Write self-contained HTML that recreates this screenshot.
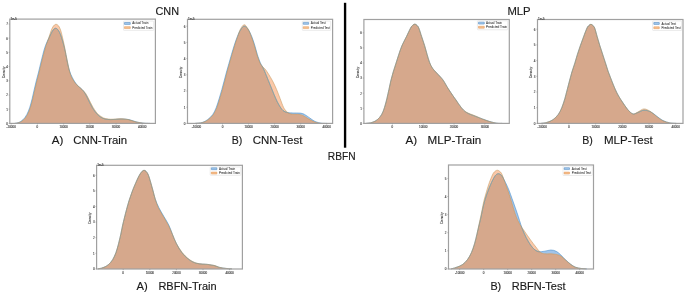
<!DOCTYPE html>
<html><head><meta charset="utf-8"><style>
html,body{margin:0;padding:0;background:#fff;}
body{width:685px;height:294px;overflow:hidden;}
svg{display:block;will-change:transform;}
.ax{fill:none;stroke:#a0a0a0;stroke-width:1.2;}
.tk{stroke:#8a8a8a;stroke-width:0.5;}
.tl{font-family:"Liberation Sans",sans-serif;font-size:3px;fill:#484848;stroke:#484848;stroke-width:0.12;}
.lt{font-family:"Liberation Sans",sans-serif;font-size:3.0px;fill:#404040;stroke:#404040;stroke-width:0.06;}
.lg{fill:#fff;fill-opacity:0.85;stroke:#d8d8d8;stroke-width:0.5;}
.bl{fill:none;stroke:#4c90cc;stroke-width:0.6;}
.ol{fill:none;stroke:#bf9558;stroke-width:0.65;stroke-opacity:0.8;}
.bm{fill:none;stroke:#93a68c;stroke-width:0.55;}
.cap{font-family:"Liberation Sans",sans-serif;fill:#1a1a1a;stroke:#1a1a1a;stroke-width:0.15;}
</style></head><body>
<svg width="685" height="294" viewBox="0 0 685 294">
<rect width="685" height="294" fill="#fff"/>
<g><clipPath id="c0"><path d="M15.00,123.40 C15.70,123.27 17.73,123.22 19.20,122.60 C20.67,121.98 22.40,121.07 23.80,119.70 C25.20,118.33 26.48,116.47 27.60,114.40 C28.72,112.33 29.62,109.95 30.50,107.30 C31.38,104.65 32.17,101.43 32.90,98.50 C33.63,95.57 34.22,92.65 34.90,89.70 C35.58,86.75 36.27,83.75 37.00,80.80 C37.73,77.85 38.57,74.93 39.30,72.00 C40.03,69.07 40.68,66.13 41.40,63.20 C42.12,60.27 42.82,57.35 43.60,54.40 C44.38,51.45 45.20,48.40 46.10,45.50 C47.00,42.60 48.18,39.42 49.00,37.00 C49.82,34.58 50.37,32.67 51.00,31.00 C51.63,29.33 52.23,28.00 52.80,27.00 C53.37,26.00 53.87,25.45 54.40,25.00 C54.93,24.55 55.45,24.30 56.00,24.30 C56.55,24.30 57.15,24.55 57.70,25.00 C58.25,25.45 58.77,26.00 59.30,27.00 C59.83,28.00 60.38,29.33 60.90,31.00 C61.42,32.67 61.83,34.58 62.40,37.00 C62.97,39.42 63.70,42.60 64.30,45.50 C64.90,48.40 65.42,51.45 66.00,54.40 C66.58,57.35 67.25,60.52 67.80,63.20 C68.35,65.88 68.73,68.28 69.30,70.50 C69.87,72.72 70.28,74.50 71.20,76.50 C72.12,78.50 73.40,80.70 74.80,82.50 C76.20,84.30 78.30,86.05 79.60,87.30 C80.90,88.55 81.62,89.02 82.60,90.00 C83.58,90.98 84.60,91.95 85.50,93.20 C86.40,94.45 87.17,95.95 88.00,97.50 C88.83,99.05 89.65,100.85 90.50,102.50 C91.35,104.15 92.22,105.90 93.10,107.40 C93.98,108.90 94.92,110.33 95.80,111.50 C96.68,112.67 97.08,113.32 98.40,114.40 C99.72,115.48 101.65,117.20 103.70,118.00 C105.75,118.80 107.82,119.08 110.70,119.20 C113.58,119.32 118.05,118.63 121.00,118.70 C123.95,118.77 125.98,119.08 128.40,119.60 C130.82,120.12 132.85,121.18 135.50,121.80 C138.15,122.42 142.22,123.03 144.30,123.30 C146.38,123.57 147.38,123.38 148.00,123.40 L148.00,123.40 L15.00,123.40 Z"/></clipPath>
<path d="M14.50,123.40 C15.17,123.27 17.08,123.22 18.50,122.60 C19.92,121.98 21.60,121.07 23.00,119.70 C24.40,118.33 25.77,116.47 26.90,114.40 C28.03,112.33 28.92,109.95 29.80,107.30 C30.68,104.65 31.47,101.43 32.20,98.50 C32.93,95.57 33.52,92.65 34.20,89.70 C34.88,86.75 35.57,83.75 36.30,80.80 C37.03,77.85 37.87,74.93 38.60,72.00 C39.33,69.07 39.98,66.13 40.70,63.20 C41.42,60.27 42.10,57.35 42.90,54.40 C43.70,51.45 44.45,48.32 45.50,45.50 C46.55,42.68 48.18,39.67 49.20,37.50 C50.22,35.33 50.87,33.85 51.60,32.50 C52.33,31.15 52.93,30.10 53.60,29.40 C54.27,28.70 54.93,28.30 55.60,28.30 C56.27,28.30 56.93,28.70 57.60,29.40 C58.27,30.10 58.95,31.15 59.60,32.50 C60.25,33.85 60.78,35.33 61.50,37.50 C62.22,39.67 63.17,42.68 63.90,45.50 C64.63,48.32 65.28,51.45 65.90,54.40 C66.52,57.35 66.98,60.43 67.60,63.20 C68.22,65.97 68.80,68.58 69.60,71.00 C70.40,73.42 71.20,75.42 72.40,77.70 C73.60,79.98 75.45,82.98 76.80,84.70 C78.15,86.42 79.47,87.03 80.50,88.00 C81.53,88.97 82.22,89.57 83.00,90.50 C83.78,91.43 84.48,92.43 85.20,93.60 C85.92,94.77 86.55,96.02 87.30,97.50 C88.05,98.98 88.87,100.85 89.70,102.50 C90.53,104.15 91.42,105.90 92.30,107.40 C93.18,108.90 94.12,110.30 95.00,111.50 C95.88,112.70 96.35,113.48 97.60,114.60 C98.85,115.72 100.77,117.40 102.50,118.20 C104.23,119.00 106.25,119.18 108.00,119.40 C109.75,119.62 110.77,119.58 113.00,119.50 C115.23,119.42 118.73,118.88 121.40,118.90 C124.07,118.92 126.57,119.12 129.00,119.60 C131.43,120.08 133.67,121.22 136.00,121.80 C138.33,122.38 140.67,122.83 143.00,123.10 C145.33,123.37 148.83,123.35 150.00,123.40 L150.00,123.40 L14.50,123.40 Z" fill="rgb(160,196,234)"/>
<path d="M15.00,123.40 C15.70,123.27 17.73,123.22 19.20,122.60 C20.67,121.98 22.40,121.07 23.80,119.70 C25.20,118.33 26.48,116.47 27.60,114.40 C28.72,112.33 29.62,109.95 30.50,107.30 C31.38,104.65 32.17,101.43 32.90,98.50 C33.63,95.57 34.22,92.65 34.90,89.70 C35.58,86.75 36.27,83.75 37.00,80.80 C37.73,77.85 38.57,74.93 39.30,72.00 C40.03,69.07 40.68,66.13 41.40,63.20 C42.12,60.27 42.82,57.35 43.60,54.40 C44.38,51.45 45.20,48.40 46.10,45.50 C47.00,42.60 48.18,39.42 49.00,37.00 C49.82,34.58 50.37,32.67 51.00,31.00 C51.63,29.33 52.23,28.00 52.80,27.00 C53.37,26.00 53.87,25.45 54.40,25.00 C54.93,24.55 55.45,24.30 56.00,24.30 C56.55,24.30 57.15,24.55 57.70,25.00 C58.25,25.45 58.77,26.00 59.30,27.00 C59.83,28.00 60.38,29.33 60.90,31.00 C61.42,32.67 61.83,34.58 62.40,37.00 C62.97,39.42 63.70,42.60 64.30,45.50 C64.90,48.40 65.42,51.45 66.00,54.40 C66.58,57.35 67.25,60.52 67.80,63.20 C68.35,65.88 68.73,68.28 69.30,70.50 C69.87,72.72 70.28,74.50 71.20,76.50 C72.12,78.50 73.40,80.70 74.80,82.50 C76.20,84.30 78.30,86.05 79.60,87.30 C80.90,88.55 81.62,89.02 82.60,90.00 C83.58,90.98 84.60,91.95 85.50,93.20 C86.40,94.45 87.17,95.95 88.00,97.50 C88.83,99.05 89.65,100.85 90.50,102.50 C91.35,104.15 92.22,105.90 93.10,107.40 C93.98,108.90 94.92,110.33 95.80,111.50 C96.68,112.67 97.08,113.32 98.40,114.40 C99.72,115.48 101.65,117.20 103.70,118.00 C105.75,118.80 107.82,119.08 110.70,119.20 C113.58,119.32 118.05,118.63 121.00,118.70 C123.95,118.77 125.98,119.08 128.40,119.60 C130.82,120.12 132.85,121.18 135.50,121.80 C138.15,122.42 142.22,123.03 144.30,123.30 C146.38,123.57 147.38,123.38 148.00,123.40 L148.00,123.40 L15.00,123.40 Z" fill="rgb(251,200,168)"/>
<path d="M14.50,123.40 C15.17,123.27 17.08,123.22 18.50,122.60 C19.92,121.98 21.60,121.07 23.00,119.70 C24.40,118.33 25.77,116.47 26.90,114.40 C28.03,112.33 28.92,109.95 29.80,107.30 C30.68,104.65 31.47,101.43 32.20,98.50 C32.93,95.57 33.52,92.65 34.20,89.70 C34.88,86.75 35.57,83.75 36.30,80.80 C37.03,77.85 37.87,74.93 38.60,72.00 C39.33,69.07 39.98,66.13 40.70,63.20 C41.42,60.27 42.10,57.35 42.90,54.40 C43.70,51.45 44.45,48.32 45.50,45.50 C46.55,42.68 48.18,39.67 49.20,37.50 C50.22,35.33 50.87,33.85 51.60,32.50 C52.33,31.15 52.93,30.10 53.60,29.40 C54.27,28.70 54.93,28.30 55.60,28.30 C56.27,28.30 56.93,28.70 57.60,29.40 C58.27,30.10 58.95,31.15 59.60,32.50 C60.25,33.85 60.78,35.33 61.50,37.50 C62.22,39.67 63.17,42.68 63.90,45.50 C64.63,48.32 65.28,51.45 65.90,54.40 C66.52,57.35 66.98,60.43 67.60,63.20 C68.22,65.97 68.80,68.58 69.60,71.00 C70.40,73.42 71.20,75.42 72.40,77.70 C73.60,79.98 75.45,82.98 76.80,84.70 C78.15,86.42 79.47,87.03 80.50,88.00 C81.53,88.97 82.22,89.57 83.00,90.50 C83.78,91.43 84.48,92.43 85.20,93.60 C85.92,94.77 86.55,96.02 87.30,97.50 C88.05,98.98 88.87,100.85 89.70,102.50 C90.53,104.15 91.42,105.90 92.30,107.40 C93.18,108.90 94.12,110.30 95.00,111.50 C95.88,112.70 96.35,113.48 97.60,114.60 C98.85,115.72 100.77,117.40 102.50,118.20 C104.23,119.00 106.25,119.18 108.00,119.40 C109.75,119.62 110.77,119.58 113.00,119.50 C115.23,119.42 118.73,118.88 121.40,118.90 C124.07,118.92 126.57,119.12 129.00,119.60 C131.43,120.08 133.67,121.22 136.00,121.80 C138.33,122.38 140.67,122.83 143.00,123.10 C145.33,123.37 148.83,123.35 150.00,123.40 L150.00,123.40 L14.50,123.40 Z" fill="rgb(214,168,140)" clip-path="url(#c0)"/>
<path d="M14.50,123.40 C15.17,123.27 17.08,123.22 18.50,122.60 C19.92,121.98 21.60,121.07 23.00,119.70 C24.40,118.33 25.77,116.47 26.90,114.40 C28.03,112.33 28.92,109.95 29.80,107.30 C30.68,104.65 31.47,101.43 32.20,98.50 C32.93,95.57 33.52,92.65 34.20,89.70 C34.88,86.75 35.57,83.75 36.30,80.80 C37.03,77.85 37.87,74.93 38.60,72.00 C39.33,69.07 39.98,66.13 40.70,63.20 C41.42,60.27 42.10,57.35 42.90,54.40 C43.70,51.45 44.45,48.32 45.50,45.50 C46.55,42.68 48.18,39.67 49.20,37.50 C50.22,35.33 50.87,33.85 51.60,32.50 C52.33,31.15 52.93,30.10 53.60,29.40 C54.27,28.70 54.93,28.30 55.60,28.30 C56.27,28.30 56.93,28.70 57.60,29.40 C58.27,30.10 58.95,31.15 59.60,32.50 C60.25,33.85 60.78,35.33 61.50,37.50 C62.22,39.67 63.17,42.68 63.90,45.50 C64.63,48.32 65.28,51.45 65.90,54.40 C66.52,57.35 66.98,60.43 67.60,63.20 C68.22,65.97 68.80,68.58 69.60,71.00 C70.40,73.42 71.20,75.42 72.40,77.70 C73.60,79.98 75.45,82.98 76.80,84.70 C78.15,86.42 79.47,87.03 80.50,88.00 C81.53,88.97 82.22,89.57 83.00,90.50 C83.78,91.43 84.48,92.43 85.20,93.60 C85.92,94.77 86.55,96.02 87.30,97.50 C88.05,98.98 88.87,100.85 89.70,102.50 C90.53,104.15 91.42,105.90 92.30,107.40 C93.18,108.90 94.12,110.30 95.00,111.50 C95.88,112.70 96.35,113.48 97.60,114.60 C98.85,115.72 100.77,117.40 102.50,118.20 C104.23,119.00 106.25,119.18 108.00,119.40 C109.75,119.62 110.77,119.58 113.00,119.50 C115.23,119.42 118.73,118.88 121.40,118.90 C124.07,118.92 126.57,119.12 129.00,119.60 C131.43,120.08 133.67,121.22 136.00,121.80 C138.33,122.38 140.67,122.83 143.00,123.10 C145.33,123.37 148.83,123.35 150.00,123.40" class="bl"/>
<path d="M14.50,123.40 C15.17,123.27 17.08,123.22 18.50,122.60 C19.92,121.98 21.60,121.07 23.00,119.70 C24.40,118.33 25.77,116.47 26.90,114.40 C28.03,112.33 28.92,109.95 29.80,107.30 C30.68,104.65 31.47,101.43 32.20,98.50 C32.93,95.57 33.52,92.65 34.20,89.70 C34.88,86.75 35.57,83.75 36.30,80.80 C37.03,77.85 37.87,74.93 38.60,72.00 C39.33,69.07 39.98,66.13 40.70,63.20 C41.42,60.27 42.10,57.35 42.90,54.40 C43.70,51.45 44.45,48.32 45.50,45.50 C46.55,42.68 48.18,39.67 49.20,37.50 C50.22,35.33 50.87,33.85 51.60,32.50 C52.33,31.15 52.93,30.10 53.60,29.40 C54.27,28.70 54.93,28.30 55.60,28.30 C56.27,28.30 56.93,28.70 57.60,29.40 C58.27,30.10 58.95,31.15 59.60,32.50 C60.25,33.85 60.78,35.33 61.50,37.50 C62.22,39.67 63.17,42.68 63.90,45.50 C64.63,48.32 65.28,51.45 65.90,54.40 C66.52,57.35 66.98,60.43 67.60,63.20 C68.22,65.97 68.80,68.58 69.60,71.00 C70.40,73.42 71.20,75.42 72.40,77.70 C73.60,79.98 75.45,82.98 76.80,84.70 C78.15,86.42 79.47,87.03 80.50,88.00 C81.53,88.97 82.22,89.57 83.00,90.50 C83.78,91.43 84.48,92.43 85.20,93.60 C85.92,94.77 86.55,96.02 87.30,97.50 C88.05,98.98 88.87,100.85 89.70,102.50 C90.53,104.15 91.42,105.90 92.30,107.40 C93.18,108.90 94.12,110.30 95.00,111.50 C95.88,112.70 96.35,113.48 97.60,114.60 C98.85,115.72 100.77,117.40 102.50,118.20 C104.23,119.00 106.25,119.18 108.00,119.40 C109.75,119.62 110.77,119.58 113.00,119.50 C115.23,119.42 118.73,118.88 121.40,118.90 C124.07,118.92 126.57,119.12 129.00,119.60 C131.43,120.08 133.67,121.22 136.00,121.80 C138.33,122.38 140.67,122.83 143.00,123.10 C145.33,123.37 148.83,123.35 150.00,123.40" class="bm" clip-path="url(#c0)"/>
<path d="M15.00,123.40 C15.70,123.27 17.73,123.22 19.20,122.60 C20.67,121.98 22.40,121.07 23.80,119.70 C25.20,118.33 26.48,116.47 27.60,114.40 C28.72,112.33 29.62,109.95 30.50,107.30 C31.38,104.65 32.17,101.43 32.90,98.50 C33.63,95.57 34.22,92.65 34.90,89.70 C35.58,86.75 36.27,83.75 37.00,80.80 C37.73,77.85 38.57,74.93 39.30,72.00 C40.03,69.07 40.68,66.13 41.40,63.20 C42.12,60.27 42.82,57.35 43.60,54.40 C44.38,51.45 45.20,48.40 46.10,45.50 C47.00,42.60 48.18,39.42 49.00,37.00 C49.82,34.58 50.37,32.67 51.00,31.00 C51.63,29.33 52.23,28.00 52.80,27.00 C53.37,26.00 53.87,25.45 54.40,25.00 C54.93,24.55 55.45,24.30 56.00,24.30 C56.55,24.30 57.15,24.55 57.70,25.00 C58.25,25.45 58.77,26.00 59.30,27.00 C59.83,28.00 60.38,29.33 60.90,31.00 C61.42,32.67 61.83,34.58 62.40,37.00 C62.97,39.42 63.70,42.60 64.30,45.50 C64.90,48.40 65.42,51.45 66.00,54.40 C66.58,57.35 67.25,60.52 67.80,63.20 C68.35,65.88 68.73,68.28 69.30,70.50 C69.87,72.72 70.28,74.50 71.20,76.50 C72.12,78.50 73.40,80.70 74.80,82.50 C76.20,84.30 78.30,86.05 79.60,87.30 C80.90,88.55 81.62,89.02 82.60,90.00 C83.58,90.98 84.60,91.95 85.50,93.20 C86.40,94.45 87.17,95.95 88.00,97.50 C88.83,99.05 89.65,100.85 90.50,102.50 C91.35,104.15 92.22,105.90 93.10,107.40 C93.98,108.90 94.92,110.33 95.80,111.50 C96.68,112.67 97.08,113.32 98.40,114.40 C99.72,115.48 101.65,117.20 103.70,118.00 C105.75,118.80 107.82,119.08 110.70,119.20 C113.58,119.32 118.05,118.63 121.00,118.70 C123.95,118.77 125.98,119.08 128.40,119.60 C130.82,120.12 132.85,121.18 135.50,121.80 C138.15,122.42 142.22,123.03 144.30,123.30 C146.38,123.57 147.38,123.38 148.00,123.40" class="ol"/>
<rect x="9.80" y="19.10" width="145.60" height="104.30" class="ax"/>
<line x1="8.60" y1="123.40" x2="9.80" y2="123.40" class="tk"/>
<text x="7.80" y="124.70" class="tl" text-anchor="end">0</text>
<line x1="8.60" y1="109.20" x2="9.80" y2="109.20" class="tk"/>
<text x="7.80" y="110.50" class="tl" text-anchor="end">1</text>
<line x1="8.60" y1="95.00" x2="9.80" y2="95.00" class="tk"/>
<text x="7.80" y="96.30" class="tl" text-anchor="end">2</text>
<line x1="8.60" y1="80.80" x2="9.80" y2="80.80" class="tk"/>
<text x="7.80" y="82.10" class="tl" text-anchor="end">3</text>
<line x1="8.60" y1="66.60" x2="9.80" y2="66.60" class="tk"/>
<text x="7.80" y="67.90" class="tl" text-anchor="end">4</text>
<line x1="8.60" y1="52.40" x2="9.80" y2="52.40" class="tk"/>
<text x="7.80" y="53.70" class="tl" text-anchor="end">5</text>
<line x1="8.60" y1="38.20" x2="9.80" y2="38.20" class="tk"/>
<text x="7.80" y="39.50" class="tl" text-anchor="end">6</text>
<line x1="8.60" y1="24.00" x2="9.80" y2="24.00" class="tk"/>
<text x="7.80" y="25.30" class="tl" text-anchor="end">7</text>
<line x1="11.20" y1="123.40" x2="11.20" y2="124.60" class="tk"/>
<text x="11.20" y="128.10" class="tl" text-anchor="middle">-10000</text>
<line x1="37.40" y1="123.40" x2="37.40" y2="124.60" class="tk"/>
<text x="37.40" y="128.10" class="tl" text-anchor="middle">0</text>
<line x1="63.60" y1="123.40" x2="63.60" y2="124.60" class="tk"/>
<text x="63.60" y="128.10" class="tl" text-anchor="middle">10000</text>
<line x1="89.80" y1="123.40" x2="89.80" y2="124.60" class="tk"/>
<text x="89.80" y="128.10" class="tl" text-anchor="middle">20000</text>
<line x1="116.00" y1="123.40" x2="116.00" y2="124.60" class="tk"/>
<text x="116.00" y="128.10" class="tl" text-anchor="middle">30000</text>
<line x1="142.20" y1="123.40" x2="142.20" y2="124.60" class="tk"/>
<text x="142.20" y="128.10" class="tl" text-anchor="middle">40000</text>
<text x="10.40" y="19.60" class="tl" style="font-size:2.7px" textLength="6.5" lengthAdjust="spacingAndGlyphs">1e-5</text>
<text transform="translate(4.60,72.25) rotate(-90)" class="tl" text-anchor="middle" style="font-size:3.4px">Density</text>
<rect x="123.50" y="21.10" width="30.20" height="9.30" rx="0.6" class="lg"/>
<rect x="124.40" y="22.50" width="5.90" height="1.9" rx="0.15" fill="#a3c8ec" stroke="#4f88c0" stroke-width="0.55"/>
<rect x="124.40" y="26.65" width="5.90" height="1.9" rx="0.15" fill="#f7c090" stroke="#e39c5e" stroke-width="0.55"/>
<text x="132.30" y="24.45" class="lt" textLength="16.10" lengthAdjust="spacingAndGlyphs">Actual Train</text>
<text x="132.30" y="28.75" class="lt" textLength="20.20" lengthAdjust="spacingAndGlyphs">Predicted Train</text></g>
<g><clipPath id="c1"><path d="M195.50,123.40 C196.68,123.25 200.50,123.12 202.60,122.50 C204.70,121.88 206.28,121.05 208.10,119.70 C209.92,118.35 212.02,116.45 213.50,114.40 C214.98,112.35 215.93,110.05 217.00,107.40 C218.07,104.75 218.98,101.45 219.90,98.50 C220.82,95.55 221.67,92.65 222.50,89.70 C223.33,86.75 224.13,83.75 224.90,80.80 C225.67,77.85 226.32,74.93 227.10,72.00 C227.88,69.07 228.77,66.13 229.60,63.20 C230.43,60.27 231.25,57.35 232.10,54.40 C232.95,51.45 233.78,48.45 234.70,45.50 C235.62,42.55 236.65,39.42 237.60,36.70 C238.55,33.98 239.30,31.20 240.40,29.20 C241.50,27.20 242.93,24.77 244.20,24.70 C245.47,24.63 246.80,26.80 248.00,28.80 C249.20,30.80 250.35,33.92 251.40,36.70 C252.45,39.48 253.38,42.55 254.30,45.50 C255.22,48.45 255.97,51.53 256.90,54.40 C257.83,57.27 258.97,60.68 259.90,62.70 C260.83,64.72 261.57,65.37 262.50,66.50 C263.43,67.63 264.45,68.17 265.50,69.50 C266.55,70.83 267.63,72.62 268.80,74.50 C269.97,76.38 271.18,78.27 272.50,80.80 C273.82,83.33 275.43,86.75 276.70,89.70 C277.97,92.65 278.95,95.55 280.10,98.50 C281.25,101.45 282.47,105.18 283.60,107.40 C284.73,109.62 285.67,110.70 286.90,111.80 C288.13,112.90 288.98,113.57 291.00,114.00 C293.02,114.43 297.00,114.15 299.00,114.40 C301.00,114.65 301.50,114.80 303.00,115.50 C304.50,116.20 306.17,117.55 308.00,118.60 C309.83,119.65 312.00,121.02 314.00,121.80 C316.00,122.58 318.17,123.03 320.00,123.30 C321.83,123.57 324.17,123.38 325.00,123.40 L325.00,123.40 L195.50,123.40 Z"/></clipPath>
<path d="M195.00,123.40 C196.18,123.25 200.02,123.12 202.10,122.50 C204.18,121.88 205.72,121.05 207.50,119.70 C209.28,118.35 211.33,116.45 212.80,114.40 C214.27,112.35 215.23,110.05 216.30,107.40 C217.37,104.75 218.28,101.45 219.20,98.50 C220.12,95.55 220.97,92.65 221.80,89.70 C222.63,86.75 223.42,83.75 224.20,80.80 C224.98,77.85 225.70,74.93 226.50,72.00 C227.30,69.07 228.17,66.13 229.00,63.20 C229.83,60.27 230.63,57.35 231.50,54.40 C232.37,51.45 233.23,48.45 234.20,45.50 C235.17,42.55 236.23,39.32 237.30,36.70 C238.37,34.08 239.45,31.55 240.60,29.80 C241.75,28.05 242.93,26.27 244.20,26.20 C245.47,26.13 246.93,27.65 248.20,29.40 C249.47,31.15 250.70,34.02 251.80,36.70 C252.90,39.38 253.88,42.55 254.80,45.50 C255.72,48.45 256.38,51.53 257.30,54.40 C258.22,57.27 259.42,60.60 260.30,62.70 C261.18,64.80 261.87,65.53 262.60,67.00 C263.33,68.47 263.75,69.27 264.70,71.50 C265.65,73.73 267.08,77.40 268.30,80.40 C269.52,83.40 270.80,86.57 272.00,89.50 C273.20,92.43 274.33,95.42 275.50,98.00 C276.67,100.58 277.75,102.92 279.00,105.00 C280.25,107.08 281.55,109.23 283.00,110.50 C284.45,111.77 286.03,112.18 287.70,112.60 C289.37,113.02 290.93,112.92 293.00,113.00 C295.07,113.08 298.18,112.87 300.10,113.10 C302.02,113.33 302.88,113.58 304.50,114.40 C306.12,115.22 308.03,116.82 309.80,118.00 C311.57,119.18 313.18,120.63 315.10,121.50 C317.02,122.37 319.32,122.88 321.30,123.20 C323.28,123.52 326.05,123.37 327.00,123.40 L327.00,123.40 L195.00,123.40 Z" fill="rgb(160,196,234)"/>
<path d="M195.50,123.40 C196.68,123.25 200.50,123.12 202.60,122.50 C204.70,121.88 206.28,121.05 208.10,119.70 C209.92,118.35 212.02,116.45 213.50,114.40 C214.98,112.35 215.93,110.05 217.00,107.40 C218.07,104.75 218.98,101.45 219.90,98.50 C220.82,95.55 221.67,92.65 222.50,89.70 C223.33,86.75 224.13,83.75 224.90,80.80 C225.67,77.85 226.32,74.93 227.10,72.00 C227.88,69.07 228.77,66.13 229.60,63.20 C230.43,60.27 231.25,57.35 232.10,54.40 C232.95,51.45 233.78,48.45 234.70,45.50 C235.62,42.55 236.65,39.42 237.60,36.70 C238.55,33.98 239.30,31.20 240.40,29.20 C241.50,27.20 242.93,24.77 244.20,24.70 C245.47,24.63 246.80,26.80 248.00,28.80 C249.20,30.80 250.35,33.92 251.40,36.70 C252.45,39.48 253.38,42.55 254.30,45.50 C255.22,48.45 255.97,51.53 256.90,54.40 C257.83,57.27 258.97,60.68 259.90,62.70 C260.83,64.72 261.57,65.37 262.50,66.50 C263.43,67.63 264.45,68.17 265.50,69.50 C266.55,70.83 267.63,72.62 268.80,74.50 C269.97,76.38 271.18,78.27 272.50,80.80 C273.82,83.33 275.43,86.75 276.70,89.70 C277.97,92.65 278.95,95.55 280.10,98.50 C281.25,101.45 282.47,105.18 283.60,107.40 C284.73,109.62 285.67,110.70 286.90,111.80 C288.13,112.90 288.98,113.57 291.00,114.00 C293.02,114.43 297.00,114.15 299.00,114.40 C301.00,114.65 301.50,114.80 303.00,115.50 C304.50,116.20 306.17,117.55 308.00,118.60 C309.83,119.65 312.00,121.02 314.00,121.80 C316.00,122.58 318.17,123.03 320.00,123.30 C321.83,123.57 324.17,123.38 325.00,123.40 L325.00,123.40 L195.50,123.40 Z" fill="rgb(251,200,168)"/>
<path d="M195.00,123.40 C196.18,123.25 200.02,123.12 202.10,122.50 C204.18,121.88 205.72,121.05 207.50,119.70 C209.28,118.35 211.33,116.45 212.80,114.40 C214.27,112.35 215.23,110.05 216.30,107.40 C217.37,104.75 218.28,101.45 219.20,98.50 C220.12,95.55 220.97,92.65 221.80,89.70 C222.63,86.75 223.42,83.75 224.20,80.80 C224.98,77.85 225.70,74.93 226.50,72.00 C227.30,69.07 228.17,66.13 229.00,63.20 C229.83,60.27 230.63,57.35 231.50,54.40 C232.37,51.45 233.23,48.45 234.20,45.50 C235.17,42.55 236.23,39.32 237.30,36.70 C238.37,34.08 239.45,31.55 240.60,29.80 C241.75,28.05 242.93,26.27 244.20,26.20 C245.47,26.13 246.93,27.65 248.20,29.40 C249.47,31.15 250.70,34.02 251.80,36.70 C252.90,39.38 253.88,42.55 254.80,45.50 C255.72,48.45 256.38,51.53 257.30,54.40 C258.22,57.27 259.42,60.60 260.30,62.70 C261.18,64.80 261.87,65.53 262.60,67.00 C263.33,68.47 263.75,69.27 264.70,71.50 C265.65,73.73 267.08,77.40 268.30,80.40 C269.52,83.40 270.80,86.57 272.00,89.50 C273.20,92.43 274.33,95.42 275.50,98.00 C276.67,100.58 277.75,102.92 279.00,105.00 C280.25,107.08 281.55,109.23 283.00,110.50 C284.45,111.77 286.03,112.18 287.70,112.60 C289.37,113.02 290.93,112.92 293.00,113.00 C295.07,113.08 298.18,112.87 300.10,113.10 C302.02,113.33 302.88,113.58 304.50,114.40 C306.12,115.22 308.03,116.82 309.80,118.00 C311.57,119.18 313.18,120.63 315.10,121.50 C317.02,122.37 319.32,122.88 321.30,123.20 C323.28,123.52 326.05,123.37 327.00,123.40 L327.00,123.40 L195.00,123.40 Z" fill="rgb(214,168,140)" clip-path="url(#c1)"/>
<path d="M195.00,123.40 C196.18,123.25 200.02,123.12 202.10,122.50 C204.18,121.88 205.72,121.05 207.50,119.70 C209.28,118.35 211.33,116.45 212.80,114.40 C214.27,112.35 215.23,110.05 216.30,107.40 C217.37,104.75 218.28,101.45 219.20,98.50 C220.12,95.55 220.97,92.65 221.80,89.70 C222.63,86.75 223.42,83.75 224.20,80.80 C224.98,77.85 225.70,74.93 226.50,72.00 C227.30,69.07 228.17,66.13 229.00,63.20 C229.83,60.27 230.63,57.35 231.50,54.40 C232.37,51.45 233.23,48.45 234.20,45.50 C235.17,42.55 236.23,39.32 237.30,36.70 C238.37,34.08 239.45,31.55 240.60,29.80 C241.75,28.05 242.93,26.27 244.20,26.20 C245.47,26.13 246.93,27.65 248.20,29.40 C249.47,31.15 250.70,34.02 251.80,36.70 C252.90,39.38 253.88,42.55 254.80,45.50 C255.72,48.45 256.38,51.53 257.30,54.40 C258.22,57.27 259.42,60.60 260.30,62.70 C261.18,64.80 261.87,65.53 262.60,67.00 C263.33,68.47 263.75,69.27 264.70,71.50 C265.65,73.73 267.08,77.40 268.30,80.40 C269.52,83.40 270.80,86.57 272.00,89.50 C273.20,92.43 274.33,95.42 275.50,98.00 C276.67,100.58 277.75,102.92 279.00,105.00 C280.25,107.08 281.55,109.23 283.00,110.50 C284.45,111.77 286.03,112.18 287.70,112.60 C289.37,113.02 290.93,112.92 293.00,113.00 C295.07,113.08 298.18,112.87 300.10,113.10 C302.02,113.33 302.88,113.58 304.50,114.40 C306.12,115.22 308.03,116.82 309.80,118.00 C311.57,119.18 313.18,120.63 315.10,121.50 C317.02,122.37 319.32,122.88 321.30,123.20 C323.28,123.52 326.05,123.37 327.00,123.40" class="bl"/>
<path d="M195.00,123.40 C196.18,123.25 200.02,123.12 202.10,122.50 C204.18,121.88 205.72,121.05 207.50,119.70 C209.28,118.35 211.33,116.45 212.80,114.40 C214.27,112.35 215.23,110.05 216.30,107.40 C217.37,104.75 218.28,101.45 219.20,98.50 C220.12,95.55 220.97,92.65 221.80,89.70 C222.63,86.75 223.42,83.75 224.20,80.80 C224.98,77.85 225.70,74.93 226.50,72.00 C227.30,69.07 228.17,66.13 229.00,63.20 C229.83,60.27 230.63,57.35 231.50,54.40 C232.37,51.45 233.23,48.45 234.20,45.50 C235.17,42.55 236.23,39.32 237.30,36.70 C238.37,34.08 239.45,31.55 240.60,29.80 C241.75,28.05 242.93,26.27 244.20,26.20 C245.47,26.13 246.93,27.65 248.20,29.40 C249.47,31.15 250.70,34.02 251.80,36.70 C252.90,39.38 253.88,42.55 254.80,45.50 C255.72,48.45 256.38,51.53 257.30,54.40 C258.22,57.27 259.42,60.60 260.30,62.70 C261.18,64.80 261.87,65.53 262.60,67.00 C263.33,68.47 263.75,69.27 264.70,71.50 C265.65,73.73 267.08,77.40 268.30,80.40 C269.52,83.40 270.80,86.57 272.00,89.50 C273.20,92.43 274.33,95.42 275.50,98.00 C276.67,100.58 277.75,102.92 279.00,105.00 C280.25,107.08 281.55,109.23 283.00,110.50 C284.45,111.77 286.03,112.18 287.70,112.60 C289.37,113.02 290.93,112.92 293.00,113.00 C295.07,113.08 298.18,112.87 300.10,113.10 C302.02,113.33 302.88,113.58 304.50,114.40 C306.12,115.22 308.03,116.82 309.80,118.00 C311.57,119.18 313.18,120.63 315.10,121.50 C317.02,122.37 319.32,122.88 321.30,123.20 C323.28,123.52 326.05,123.37 327.00,123.40" class="bm" clip-path="url(#c1)"/>
<path d="M195.50,123.40 C196.68,123.25 200.50,123.12 202.60,122.50 C204.70,121.88 206.28,121.05 208.10,119.70 C209.92,118.35 212.02,116.45 213.50,114.40 C214.98,112.35 215.93,110.05 217.00,107.40 C218.07,104.75 218.98,101.45 219.90,98.50 C220.82,95.55 221.67,92.65 222.50,89.70 C223.33,86.75 224.13,83.75 224.90,80.80 C225.67,77.85 226.32,74.93 227.10,72.00 C227.88,69.07 228.77,66.13 229.60,63.20 C230.43,60.27 231.25,57.35 232.10,54.40 C232.95,51.45 233.78,48.45 234.70,45.50 C235.62,42.55 236.65,39.42 237.60,36.70 C238.55,33.98 239.30,31.20 240.40,29.20 C241.50,27.20 242.93,24.77 244.20,24.70 C245.47,24.63 246.80,26.80 248.00,28.80 C249.20,30.80 250.35,33.92 251.40,36.70 C252.45,39.48 253.38,42.55 254.30,45.50 C255.22,48.45 255.97,51.53 256.90,54.40 C257.83,57.27 258.97,60.68 259.90,62.70 C260.83,64.72 261.57,65.37 262.50,66.50 C263.43,67.63 264.45,68.17 265.50,69.50 C266.55,70.83 267.63,72.62 268.80,74.50 C269.97,76.38 271.18,78.27 272.50,80.80 C273.82,83.33 275.43,86.75 276.70,89.70 C277.97,92.65 278.95,95.55 280.10,98.50 C281.25,101.45 282.47,105.18 283.60,107.40 C284.73,109.62 285.67,110.70 286.90,111.80 C288.13,112.90 288.98,113.57 291.00,114.00 C293.02,114.43 297.00,114.15 299.00,114.40 C301.00,114.65 301.50,114.80 303.00,115.50 C304.50,116.20 306.17,117.55 308.00,118.60 C309.83,119.65 312.00,121.02 314.00,121.80 C316.00,122.58 318.17,123.03 320.00,123.30 C321.83,123.57 324.17,123.38 325.00,123.40" class="ol"/>
<rect x="187.50" y="19.30" width="145.10" height="104.10" class="ax"/>
<line x1="186.30" y1="123.40" x2="187.50" y2="123.40" class="tk"/>
<text x="185.50" y="124.70" class="tl" text-anchor="end">0</text>
<line x1="186.30" y1="107.20" x2="187.50" y2="107.20" class="tk"/>
<text x="185.50" y="108.50" class="tl" text-anchor="end">1</text>
<line x1="186.30" y1="91.00" x2="187.50" y2="91.00" class="tk"/>
<text x="185.50" y="92.30" class="tl" text-anchor="end">2</text>
<line x1="186.30" y1="74.80" x2="187.50" y2="74.80" class="tk"/>
<text x="185.50" y="76.10" class="tl" text-anchor="end">3</text>
<line x1="186.30" y1="58.60" x2="187.50" y2="58.60" class="tk"/>
<text x="185.50" y="59.90" class="tl" text-anchor="end">4</text>
<line x1="186.30" y1="42.40" x2="187.50" y2="42.40" class="tk"/>
<text x="185.50" y="43.70" class="tl" text-anchor="end">5</text>
<line x1="186.30" y1="26.20" x2="187.50" y2="26.20" class="tk"/>
<text x="185.50" y="27.50" class="tl" text-anchor="end">6</text>
<line x1="196.45" y1="123.40" x2="196.45" y2="124.60" class="tk"/>
<text x="196.45" y="128.10" class="tl" text-anchor="middle">-10000</text>
<line x1="222.50" y1="123.40" x2="222.50" y2="124.60" class="tk"/>
<text x="222.50" y="128.10" class="tl" text-anchor="middle">0</text>
<line x1="248.55" y1="123.40" x2="248.55" y2="124.60" class="tk"/>
<text x="248.55" y="128.10" class="tl" text-anchor="middle">10000</text>
<line x1="274.60" y1="123.40" x2="274.60" y2="124.60" class="tk"/>
<text x="274.60" y="128.10" class="tl" text-anchor="middle">20000</text>
<line x1="300.65" y1="123.40" x2="300.65" y2="124.60" class="tk"/>
<text x="300.65" y="128.10" class="tl" text-anchor="middle">30000</text>
<line x1="326.70" y1="123.40" x2="326.70" y2="124.60" class="tk"/>
<text x="326.70" y="128.10" class="tl" text-anchor="middle">40000</text>
<text x="188.10" y="19.80" class="tl" style="font-size:2.7px" textLength="6.5" lengthAdjust="spacingAndGlyphs">1e-5</text>
<text transform="translate(182.30,72.35) rotate(-90)" class="tl" text-anchor="middle" style="font-size:3.4px">Density</text>
<rect x="302.30" y="21.10" width="28.40" height="9.30" rx="0.6" class="lg"/>
<rect x="303.20" y="22.40" width="5.50" height="1.9" rx="0.15" fill="#a3c8ec" stroke="#4f88c0" stroke-width="0.55"/>
<rect x="303.20" y="26.70" width="5.50" height="1.9" rx="0.15" fill="#f7c090" stroke="#e39c5e" stroke-width="0.55"/>
<text x="310.80" y="24.45" class="lt" textLength="14.90" lengthAdjust="spacingAndGlyphs">Actual Test</text>
<text x="310.80" y="28.75" class="lt" textLength="19.10" lengthAdjust="spacingAndGlyphs">Predicted Test</text></g>
<g><clipPath id="c2"><path d="M366.00,123.40 C367.00,123.23 370.12,123.02 372.00,122.40 C373.88,121.78 375.68,121.03 377.30,119.70 C378.92,118.37 380.50,116.45 381.70,114.40 C382.90,112.35 383.63,110.05 384.50,107.40 C385.37,104.75 386.17,101.45 386.90,98.50 C387.63,95.55 388.25,92.65 388.90,89.70 C389.55,86.75 390.08,83.75 390.80,80.80 C391.52,77.85 392.33,74.93 393.20,72.00 C394.07,69.07 395.07,66.13 396.00,63.20 C396.93,60.27 397.80,57.35 398.80,54.40 C399.80,51.45 400.73,48.45 402.00,45.50 C403.27,42.55 404.97,39.62 406.40,36.70 C407.83,33.78 409.55,29.90 410.60,28.00 C411.65,26.10 412.00,25.95 412.70,25.30 C413.40,24.65 414.10,24.10 414.80,24.10 C415.50,24.10 416.23,24.65 416.90,25.30 C417.57,25.95 418.00,26.10 418.80,28.00 C419.60,29.90 420.73,33.78 421.70,36.70 C422.67,39.62 423.70,42.55 424.60,45.50 C425.50,48.45 426.25,51.53 427.10,54.40 C427.95,57.27 428.80,60.40 429.70,62.70 C430.60,65.00 431.48,66.65 432.50,68.20 C433.52,69.75 434.47,70.53 435.80,72.00 C437.13,73.47 439.22,75.55 440.50,77.00 C441.78,78.45 442.22,78.77 443.50,80.70 C444.78,82.63 446.65,86.13 448.20,88.60 C449.75,91.07 451.50,93.60 452.80,95.50 C454.10,97.40 454.60,98.02 456.00,100.00 C457.40,101.98 459.45,105.37 461.20,107.40 C462.95,109.43 464.13,110.78 466.50,112.20 C468.87,113.62 472.75,114.77 475.40,115.90 C478.05,117.03 480.05,118.07 482.40,119.00 C484.75,119.93 487.13,120.80 489.50,121.50 C491.87,122.20 494.52,122.88 496.60,123.20 C498.68,123.52 501.10,123.37 502.00,123.40 L502.00,123.40 L366.00,123.40 Z"/></clipPath>
<path d="M366.00,123.40 C367.00,123.23 370.12,123.02 372.00,122.40 C373.88,121.78 375.68,121.03 377.30,119.70 C378.92,118.37 380.50,116.45 381.70,114.40 C382.90,112.35 383.63,110.05 384.50,107.40 C385.37,104.75 386.17,101.45 386.90,98.50 C387.63,95.55 388.25,92.65 388.90,89.70 C389.55,86.75 390.08,83.75 390.80,80.80 C391.52,77.85 392.33,74.93 393.20,72.00 C394.07,69.07 395.07,66.13 396.00,63.20 C396.93,60.27 397.80,57.35 398.80,54.40 C399.80,51.45 400.73,48.45 402.00,45.50 C403.27,42.55 404.97,39.62 406.40,36.70 C407.83,33.78 409.55,29.90 410.60,28.00 C411.65,26.10 412.00,25.95 412.70,25.30 C413.40,24.65 414.10,24.10 414.80,24.10 C415.50,24.10 416.23,24.65 416.90,25.30 C417.57,25.95 418.00,26.10 418.80,28.00 C419.60,29.90 420.73,33.78 421.70,36.70 C422.67,39.62 423.70,42.55 424.60,45.50 C425.50,48.45 426.25,51.53 427.10,54.40 C427.95,57.27 428.80,60.40 429.70,62.70 C430.60,65.00 431.48,66.65 432.50,68.20 C433.52,69.75 434.47,70.53 435.80,72.00 C437.13,73.47 439.22,75.55 440.50,77.00 C441.78,78.45 442.22,78.77 443.50,80.70 C444.78,82.63 446.65,86.13 448.20,88.60 C449.75,91.07 451.50,93.60 452.80,95.50 C454.10,97.40 454.60,98.02 456.00,100.00 C457.40,101.98 459.40,105.28 461.20,107.40 C463.00,109.52 464.38,111.20 466.80,112.70 C469.22,114.20 473.05,115.35 475.70,116.40 C478.35,117.45 480.35,118.15 482.70,119.00 C485.05,119.85 487.43,120.80 489.80,121.50 C492.17,122.20 494.82,122.88 496.90,123.20 C498.98,123.52 501.40,123.37 502.30,123.40 L502.30,123.40 L366.00,123.40 Z" fill="rgb(160,196,234)"/>
<path d="M366.00,123.40 C367.00,123.23 370.12,123.02 372.00,122.40 C373.88,121.78 375.68,121.03 377.30,119.70 C378.92,118.37 380.50,116.45 381.70,114.40 C382.90,112.35 383.63,110.05 384.50,107.40 C385.37,104.75 386.17,101.45 386.90,98.50 C387.63,95.55 388.25,92.65 388.90,89.70 C389.55,86.75 390.08,83.75 390.80,80.80 C391.52,77.85 392.33,74.93 393.20,72.00 C394.07,69.07 395.07,66.13 396.00,63.20 C396.93,60.27 397.80,57.35 398.80,54.40 C399.80,51.45 400.73,48.45 402.00,45.50 C403.27,42.55 404.97,39.62 406.40,36.70 C407.83,33.78 409.55,29.90 410.60,28.00 C411.65,26.10 412.00,25.95 412.70,25.30 C413.40,24.65 414.10,24.10 414.80,24.10 C415.50,24.10 416.23,24.65 416.90,25.30 C417.57,25.95 418.00,26.10 418.80,28.00 C419.60,29.90 420.73,33.78 421.70,36.70 C422.67,39.62 423.70,42.55 424.60,45.50 C425.50,48.45 426.25,51.53 427.10,54.40 C427.95,57.27 428.80,60.40 429.70,62.70 C430.60,65.00 431.48,66.65 432.50,68.20 C433.52,69.75 434.47,70.53 435.80,72.00 C437.13,73.47 439.22,75.55 440.50,77.00 C441.78,78.45 442.22,78.77 443.50,80.70 C444.78,82.63 446.65,86.13 448.20,88.60 C449.75,91.07 451.50,93.60 452.80,95.50 C454.10,97.40 454.60,98.02 456.00,100.00 C457.40,101.98 459.45,105.37 461.20,107.40 C462.95,109.43 464.13,110.78 466.50,112.20 C468.87,113.62 472.75,114.77 475.40,115.90 C478.05,117.03 480.05,118.07 482.40,119.00 C484.75,119.93 487.13,120.80 489.50,121.50 C491.87,122.20 494.52,122.88 496.60,123.20 C498.68,123.52 501.10,123.37 502.00,123.40 L502.00,123.40 L366.00,123.40 Z" fill="rgb(251,200,168)"/>
<path d="M366.00,123.40 C367.00,123.23 370.12,123.02 372.00,122.40 C373.88,121.78 375.68,121.03 377.30,119.70 C378.92,118.37 380.50,116.45 381.70,114.40 C382.90,112.35 383.63,110.05 384.50,107.40 C385.37,104.75 386.17,101.45 386.90,98.50 C387.63,95.55 388.25,92.65 388.90,89.70 C389.55,86.75 390.08,83.75 390.80,80.80 C391.52,77.85 392.33,74.93 393.20,72.00 C394.07,69.07 395.07,66.13 396.00,63.20 C396.93,60.27 397.80,57.35 398.80,54.40 C399.80,51.45 400.73,48.45 402.00,45.50 C403.27,42.55 404.97,39.62 406.40,36.70 C407.83,33.78 409.55,29.90 410.60,28.00 C411.65,26.10 412.00,25.95 412.70,25.30 C413.40,24.65 414.10,24.10 414.80,24.10 C415.50,24.10 416.23,24.65 416.90,25.30 C417.57,25.95 418.00,26.10 418.80,28.00 C419.60,29.90 420.73,33.78 421.70,36.70 C422.67,39.62 423.70,42.55 424.60,45.50 C425.50,48.45 426.25,51.53 427.10,54.40 C427.95,57.27 428.80,60.40 429.70,62.70 C430.60,65.00 431.48,66.65 432.50,68.20 C433.52,69.75 434.47,70.53 435.80,72.00 C437.13,73.47 439.22,75.55 440.50,77.00 C441.78,78.45 442.22,78.77 443.50,80.70 C444.78,82.63 446.65,86.13 448.20,88.60 C449.75,91.07 451.50,93.60 452.80,95.50 C454.10,97.40 454.60,98.02 456.00,100.00 C457.40,101.98 459.40,105.28 461.20,107.40 C463.00,109.52 464.38,111.20 466.80,112.70 C469.22,114.20 473.05,115.35 475.70,116.40 C478.35,117.45 480.35,118.15 482.70,119.00 C485.05,119.85 487.43,120.80 489.80,121.50 C492.17,122.20 494.82,122.88 496.90,123.20 C498.98,123.52 501.40,123.37 502.30,123.40 L502.30,123.40 L366.00,123.40 Z" fill="rgb(214,168,140)" clip-path="url(#c2)"/>
<path d="M366.00,123.40 C367.00,123.23 370.12,123.02 372.00,122.40 C373.88,121.78 375.68,121.03 377.30,119.70 C378.92,118.37 380.50,116.45 381.70,114.40 C382.90,112.35 383.63,110.05 384.50,107.40 C385.37,104.75 386.17,101.45 386.90,98.50 C387.63,95.55 388.25,92.65 388.90,89.70 C389.55,86.75 390.08,83.75 390.80,80.80 C391.52,77.85 392.33,74.93 393.20,72.00 C394.07,69.07 395.07,66.13 396.00,63.20 C396.93,60.27 397.80,57.35 398.80,54.40 C399.80,51.45 400.73,48.45 402.00,45.50 C403.27,42.55 404.97,39.62 406.40,36.70 C407.83,33.78 409.55,29.90 410.60,28.00 C411.65,26.10 412.00,25.95 412.70,25.30 C413.40,24.65 414.10,24.10 414.80,24.10 C415.50,24.10 416.23,24.65 416.90,25.30 C417.57,25.95 418.00,26.10 418.80,28.00 C419.60,29.90 420.73,33.78 421.70,36.70 C422.67,39.62 423.70,42.55 424.60,45.50 C425.50,48.45 426.25,51.53 427.10,54.40 C427.95,57.27 428.80,60.40 429.70,62.70 C430.60,65.00 431.48,66.65 432.50,68.20 C433.52,69.75 434.47,70.53 435.80,72.00 C437.13,73.47 439.22,75.55 440.50,77.00 C441.78,78.45 442.22,78.77 443.50,80.70 C444.78,82.63 446.65,86.13 448.20,88.60 C449.75,91.07 451.50,93.60 452.80,95.50 C454.10,97.40 454.60,98.02 456.00,100.00 C457.40,101.98 459.40,105.28 461.20,107.40 C463.00,109.52 464.38,111.20 466.80,112.70 C469.22,114.20 473.05,115.35 475.70,116.40 C478.35,117.45 480.35,118.15 482.70,119.00 C485.05,119.85 487.43,120.80 489.80,121.50 C492.17,122.20 494.82,122.88 496.90,123.20 C498.98,123.52 501.40,123.37 502.30,123.40" class="bl"/>
<path d="M366.00,123.40 C367.00,123.23 370.12,123.02 372.00,122.40 C373.88,121.78 375.68,121.03 377.30,119.70 C378.92,118.37 380.50,116.45 381.70,114.40 C382.90,112.35 383.63,110.05 384.50,107.40 C385.37,104.75 386.17,101.45 386.90,98.50 C387.63,95.55 388.25,92.65 388.90,89.70 C389.55,86.75 390.08,83.75 390.80,80.80 C391.52,77.85 392.33,74.93 393.20,72.00 C394.07,69.07 395.07,66.13 396.00,63.20 C396.93,60.27 397.80,57.35 398.80,54.40 C399.80,51.45 400.73,48.45 402.00,45.50 C403.27,42.55 404.97,39.62 406.40,36.70 C407.83,33.78 409.55,29.90 410.60,28.00 C411.65,26.10 412.00,25.95 412.70,25.30 C413.40,24.65 414.10,24.10 414.80,24.10 C415.50,24.10 416.23,24.65 416.90,25.30 C417.57,25.95 418.00,26.10 418.80,28.00 C419.60,29.90 420.73,33.78 421.70,36.70 C422.67,39.62 423.70,42.55 424.60,45.50 C425.50,48.45 426.25,51.53 427.10,54.40 C427.95,57.27 428.80,60.40 429.70,62.70 C430.60,65.00 431.48,66.65 432.50,68.20 C433.52,69.75 434.47,70.53 435.80,72.00 C437.13,73.47 439.22,75.55 440.50,77.00 C441.78,78.45 442.22,78.77 443.50,80.70 C444.78,82.63 446.65,86.13 448.20,88.60 C449.75,91.07 451.50,93.60 452.80,95.50 C454.10,97.40 454.60,98.02 456.00,100.00 C457.40,101.98 459.40,105.28 461.20,107.40 C463.00,109.52 464.38,111.20 466.80,112.70 C469.22,114.20 473.05,115.35 475.70,116.40 C478.35,117.45 480.35,118.15 482.70,119.00 C485.05,119.85 487.43,120.80 489.80,121.50 C492.17,122.20 494.82,122.88 496.90,123.20 C498.98,123.52 501.40,123.37 502.30,123.40" class="bm" clip-path="url(#c2)"/>
<path d="M366.00,123.40 C367.00,123.23 370.12,123.02 372.00,122.40 C373.88,121.78 375.68,121.03 377.30,119.70 C378.92,118.37 380.50,116.45 381.70,114.40 C382.90,112.35 383.63,110.05 384.50,107.40 C385.37,104.75 386.17,101.45 386.90,98.50 C387.63,95.55 388.25,92.65 388.90,89.70 C389.55,86.75 390.08,83.75 390.80,80.80 C391.52,77.85 392.33,74.93 393.20,72.00 C394.07,69.07 395.07,66.13 396.00,63.20 C396.93,60.27 397.80,57.35 398.80,54.40 C399.80,51.45 400.73,48.45 402.00,45.50 C403.27,42.55 404.97,39.62 406.40,36.70 C407.83,33.78 409.55,29.90 410.60,28.00 C411.65,26.10 412.00,25.95 412.70,25.30 C413.40,24.65 414.10,24.10 414.80,24.10 C415.50,24.10 416.23,24.65 416.90,25.30 C417.57,25.95 418.00,26.10 418.80,28.00 C419.60,29.90 420.73,33.78 421.70,36.70 C422.67,39.62 423.70,42.55 424.60,45.50 C425.50,48.45 426.25,51.53 427.10,54.40 C427.95,57.27 428.80,60.40 429.70,62.70 C430.60,65.00 431.48,66.65 432.50,68.20 C433.52,69.75 434.47,70.53 435.80,72.00 C437.13,73.47 439.22,75.55 440.50,77.00 C441.78,78.45 442.22,78.77 443.50,80.70 C444.78,82.63 446.65,86.13 448.20,88.60 C449.75,91.07 451.50,93.60 452.80,95.50 C454.10,97.40 454.60,98.02 456.00,100.00 C457.40,101.98 459.45,105.37 461.20,107.40 C462.95,109.43 464.13,110.78 466.50,112.20 C468.87,113.62 472.75,114.77 475.40,115.90 C478.05,117.03 480.05,118.07 482.40,119.00 C484.75,119.93 487.13,120.80 489.50,121.50 C491.87,122.20 494.52,122.88 496.60,123.20 C498.68,123.52 501.10,123.37 502.00,123.40" class="ol"/>
<rect x="363.90" y="19.50" width="145.40" height="103.90" class="ax"/>
<line x1="362.70" y1="123.40" x2="363.90" y2="123.40" class="tk"/>
<text x="361.90" y="124.70" class="tl" text-anchor="end">0</text>
<line x1="362.70" y1="108.30" x2="363.90" y2="108.30" class="tk"/>
<text x="361.90" y="109.60" class="tl" text-anchor="end">1</text>
<line x1="362.70" y1="93.20" x2="363.90" y2="93.20" class="tk"/>
<text x="361.90" y="94.50" class="tl" text-anchor="end">2</text>
<line x1="362.70" y1="78.10" x2="363.90" y2="78.10" class="tk"/>
<text x="361.90" y="79.40" class="tl" text-anchor="end">3</text>
<line x1="362.70" y1="63.00" x2="363.90" y2="63.00" class="tk"/>
<text x="361.90" y="64.30" class="tl" text-anchor="end">4</text>
<line x1="362.70" y1="47.90" x2="363.90" y2="47.90" class="tk"/>
<text x="361.90" y="49.20" class="tl" text-anchor="end">5</text>
<line x1="362.70" y1="32.80" x2="363.90" y2="32.80" class="tk"/>
<text x="361.90" y="34.10" class="tl" text-anchor="end">6</text>
<line x1="392.40" y1="123.40" x2="392.40" y2="124.60" class="tk"/>
<text x="392.40" y="128.10" class="tl" text-anchor="middle">0</text>
<line x1="423.20" y1="123.40" x2="423.20" y2="124.60" class="tk"/>
<text x="423.20" y="128.10" class="tl" text-anchor="middle">10000</text>
<line x1="454.00" y1="123.40" x2="454.00" y2="124.60" class="tk"/>
<text x="454.00" y="128.10" class="tl" text-anchor="middle">20000</text>
<line x1="484.80" y1="123.40" x2="484.80" y2="124.60" class="tk"/>
<text x="484.80" y="128.10" class="tl" text-anchor="middle">30000</text>
<text transform="translate(358.70,72.45) rotate(-90)" class="tl" text-anchor="middle" style="font-size:3.4px">Density</text>
<rect x="477.40" y="20.80" width="30.40" height="9.00" rx="0.6" class="lg"/>
<rect x="478.50" y="22.15" width="5.80" height="1.9" rx="0.15" fill="#a3c8ec" stroke="#4f88c0" stroke-width="0.55"/>
<rect x="478.50" y="26.30" width="5.80" height="1.9" rx="0.15" fill="#f7c090" stroke="#e39c5e" stroke-width="0.55"/>
<text x="486.00" y="24.00" class="lt" textLength="16.00" lengthAdjust="spacingAndGlyphs">Actual Train</text>
<text x="486.00" y="28.25" class="lt" textLength="21.10" lengthAdjust="spacingAndGlyphs">Predicted Train</text></g>
<g><clipPath id="c3"><path d="M541.00,123.40 C541.97,123.23 544.80,123.02 546.80,122.40 C548.80,121.78 551.08,121.03 553.00,119.70 C554.92,118.37 556.82,116.45 558.30,114.40 C559.78,112.35 560.80,110.05 561.90,107.40 C563.00,104.75 564.02,101.45 564.90,98.50 C565.78,95.55 566.43,92.65 567.20,89.70 C567.97,86.75 568.72,83.75 569.50,80.80 C570.28,77.85 571.02,74.93 571.90,72.00 C572.78,69.07 573.88,66.13 574.80,63.20 C575.72,60.27 576.47,57.35 577.40,54.40 C578.33,51.45 579.37,48.45 580.40,45.50 C581.43,42.55 582.50,39.62 583.60,36.70 C584.70,33.78 586.12,29.87 587.00,28.00 C587.88,26.13 588.25,26.12 588.90,25.50 C589.55,24.88 590.23,24.30 590.90,24.30 C591.57,24.30 592.27,24.88 592.90,25.50 C593.53,26.12 593.98,26.13 594.70,28.00 C595.42,29.87 596.35,33.78 597.20,36.70 C598.05,39.62 598.88,42.55 599.80,45.50 C600.72,48.45 601.77,51.53 602.70,54.40 C603.63,57.27 604.48,59.85 605.40,62.70 C606.32,65.55 607.17,68.55 608.20,71.50 C609.23,74.45 610.43,77.45 611.60,80.40 C612.77,83.35 614.03,86.60 615.20,89.20 C616.37,91.80 617.20,93.57 618.60,96.00 C620.00,98.43 621.88,101.32 623.60,103.80 C625.32,106.28 627.28,109.22 628.90,110.90 C630.52,112.58 631.83,113.70 633.30,113.90 C634.77,114.10 635.93,112.93 637.70,112.10 C639.47,111.27 641.83,109.03 643.90,108.90 C645.97,108.77 648.03,110.08 650.10,111.30 C652.17,112.52 654.23,114.65 656.30,116.20 C658.37,117.75 660.28,119.48 662.50,120.60 C664.72,121.72 667.35,122.43 669.60,122.90 C671.85,123.37 674.93,123.32 676.00,123.40 L676.00,123.40 L541.00,123.40 Z"/></clipPath>
<path d="M541.00,123.40 C541.97,123.23 544.80,123.02 546.80,122.40 C548.80,121.78 551.08,121.03 553.00,119.70 C554.92,118.37 556.82,116.45 558.30,114.40 C559.78,112.35 560.80,110.05 561.90,107.40 C563.00,104.75 564.02,101.45 564.90,98.50 C565.78,95.55 566.43,92.65 567.20,89.70 C567.97,86.75 568.72,83.75 569.50,80.80 C570.28,77.85 571.02,74.93 571.90,72.00 C572.78,69.07 573.88,66.13 574.80,63.20 C575.72,60.27 576.47,57.35 577.40,54.40 C578.33,51.45 579.37,48.45 580.40,45.50 C581.43,42.55 582.50,39.62 583.60,36.70 C584.70,33.78 586.12,29.87 587.00,28.00 C587.88,26.13 588.25,26.12 588.90,25.50 C589.55,24.88 590.23,24.30 590.90,24.30 C591.57,24.30 592.27,24.88 592.90,25.50 C593.53,26.12 593.98,26.13 594.70,28.00 C595.42,29.87 596.35,33.78 597.20,36.70 C598.05,39.62 598.88,42.55 599.80,45.50 C600.72,48.45 601.77,51.53 602.70,54.40 C603.63,57.27 604.48,59.85 605.40,62.70 C606.32,65.55 607.17,68.55 608.20,71.50 C609.23,74.45 610.43,77.45 611.60,80.40 C612.77,83.35 614.03,86.60 615.20,89.20 C616.37,91.80 617.20,93.57 618.60,96.00 C620.00,98.43 621.88,101.32 623.60,103.80 C625.32,106.28 627.28,109.22 628.90,110.90 C630.52,112.58 631.83,113.62 633.30,113.90 C634.77,114.18 635.93,113.22 637.70,112.60 C639.47,111.98 641.75,110.33 643.90,110.20 C646.05,110.07 648.45,110.80 650.60,111.80 C652.75,112.80 654.73,114.73 656.80,116.20 C658.87,117.67 660.78,119.48 663.00,120.60 C665.22,121.72 667.85,122.43 670.10,122.90 C672.35,123.37 675.43,123.32 676.50,123.40 L676.50,123.40 L541.00,123.40 Z" fill="rgb(160,196,234)"/>
<path d="M541.00,123.40 C541.97,123.23 544.80,123.02 546.80,122.40 C548.80,121.78 551.08,121.03 553.00,119.70 C554.92,118.37 556.82,116.45 558.30,114.40 C559.78,112.35 560.80,110.05 561.90,107.40 C563.00,104.75 564.02,101.45 564.90,98.50 C565.78,95.55 566.43,92.65 567.20,89.70 C567.97,86.75 568.72,83.75 569.50,80.80 C570.28,77.85 571.02,74.93 571.90,72.00 C572.78,69.07 573.88,66.13 574.80,63.20 C575.72,60.27 576.47,57.35 577.40,54.40 C578.33,51.45 579.37,48.45 580.40,45.50 C581.43,42.55 582.50,39.62 583.60,36.70 C584.70,33.78 586.12,29.87 587.00,28.00 C587.88,26.13 588.25,26.12 588.90,25.50 C589.55,24.88 590.23,24.30 590.90,24.30 C591.57,24.30 592.27,24.88 592.90,25.50 C593.53,26.12 593.98,26.13 594.70,28.00 C595.42,29.87 596.35,33.78 597.20,36.70 C598.05,39.62 598.88,42.55 599.80,45.50 C600.72,48.45 601.77,51.53 602.70,54.40 C603.63,57.27 604.48,59.85 605.40,62.70 C606.32,65.55 607.17,68.55 608.20,71.50 C609.23,74.45 610.43,77.45 611.60,80.40 C612.77,83.35 614.03,86.60 615.20,89.20 C616.37,91.80 617.20,93.57 618.60,96.00 C620.00,98.43 621.88,101.32 623.60,103.80 C625.32,106.28 627.28,109.22 628.90,110.90 C630.52,112.58 631.83,113.70 633.30,113.90 C634.77,114.10 635.93,112.93 637.70,112.10 C639.47,111.27 641.83,109.03 643.90,108.90 C645.97,108.77 648.03,110.08 650.10,111.30 C652.17,112.52 654.23,114.65 656.30,116.20 C658.37,117.75 660.28,119.48 662.50,120.60 C664.72,121.72 667.35,122.43 669.60,122.90 C671.85,123.37 674.93,123.32 676.00,123.40 L676.00,123.40 L541.00,123.40 Z" fill="rgb(251,200,168)"/>
<path d="M541.00,123.40 C541.97,123.23 544.80,123.02 546.80,122.40 C548.80,121.78 551.08,121.03 553.00,119.70 C554.92,118.37 556.82,116.45 558.30,114.40 C559.78,112.35 560.80,110.05 561.90,107.40 C563.00,104.75 564.02,101.45 564.90,98.50 C565.78,95.55 566.43,92.65 567.20,89.70 C567.97,86.75 568.72,83.75 569.50,80.80 C570.28,77.85 571.02,74.93 571.90,72.00 C572.78,69.07 573.88,66.13 574.80,63.20 C575.72,60.27 576.47,57.35 577.40,54.40 C578.33,51.45 579.37,48.45 580.40,45.50 C581.43,42.55 582.50,39.62 583.60,36.70 C584.70,33.78 586.12,29.87 587.00,28.00 C587.88,26.13 588.25,26.12 588.90,25.50 C589.55,24.88 590.23,24.30 590.90,24.30 C591.57,24.30 592.27,24.88 592.90,25.50 C593.53,26.12 593.98,26.13 594.70,28.00 C595.42,29.87 596.35,33.78 597.20,36.70 C598.05,39.62 598.88,42.55 599.80,45.50 C600.72,48.45 601.77,51.53 602.70,54.40 C603.63,57.27 604.48,59.85 605.40,62.70 C606.32,65.55 607.17,68.55 608.20,71.50 C609.23,74.45 610.43,77.45 611.60,80.40 C612.77,83.35 614.03,86.60 615.20,89.20 C616.37,91.80 617.20,93.57 618.60,96.00 C620.00,98.43 621.88,101.32 623.60,103.80 C625.32,106.28 627.28,109.22 628.90,110.90 C630.52,112.58 631.83,113.62 633.30,113.90 C634.77,114.18 635.93,113.22 637.70,112.60 C639.47,111.98 641.75,110.33 643.90,110.20 C646.05,110.07 648.45,110.80 650.60,111.80 C652.75,112.80 654.73,114.73 656.80,116.20 C658.87,117.67 660.78,119.48 663.00,120.60 C665.22,121.72 667.85,122.43 670.10,122.90 C672.35,123.37 675.43,123.32 676.50,123.40 L676.50,123.40 L541.00,123.40 Z" fill="rgb(214,168,140)" clip-path="url(#c3)"/>
<path d="M541.00,123.40 C541.97,123.23 544.80,123.02 546.80,122.40 C548.80,121.78 551.08,121.03 553.00,119.70 C554.92,118.37 556.82,116.45 558.30,114.40 C559.78,112.35 560.80,110.05 561.90,107.40 C563.00,104.75 564.02,101.45 564.90,98.50 C565.78,95.55 566.43,92.65 567.20,89.70 C567.97,86.75 568.72,83.75 569.50,80.80 C570.28,77.85 571.02,74.93 571.90,72.00 C572.78,69.07 573.88,66.13 574.80,63.20 C575.72,60.27 576.47,57.35 577.40,54.40 C578.33,51.45 579.37,48.45 580.40,45.50 C581.43,42.55 582.50,39.62 583.60,36.70 C584.70,33.78 586.12,29.87 587.00,28.00 C587.88,26.13 588.25,26.12 588.90,25.50 C589.55,24.88 590.23,24.30 590.90,24.30 C591.57,24.30 592.27,24.88 592.90,25.50 C593.53,26.12 593.98,26.13 594.70,28.00 C595.42,29.87 596.35,33.78 597.20,36.70 C598.05,39.62 598.88,42.55 599.80,45.50 C600.72,48.45 601.77,51.53 602.70,54.40 C603.63,57.27 604.48,59.85 605.40,62.70 C606.32,65.55 607.17,68.55 608.20,71.50 C609.23,74.45 610.43,77.45 611.60,80.40 C612.77,83.35 614.03,86.60 615.20,89.20 C616.37,91.80 617.20,93.57 618.60,96.00 C620.00,98.43 621.88,101.32 623.60,103.80 C625.32,106.28 627.28,109.22 628.90,110.90 C630.52,112.58 631.83,113.62 633.30,113.90 C634.77,114.18 635.93,113.22 637.70,112.60 C639.47,111.98 641.75,110.33 643.90,110.20 C646.05,110.07 648.45,110.80 650.60,111.80 C652.75,112.80 654.73,114.73 656.80,116.20 C658.87,117.67 660.78,119.48 663.00,120.60 C665.22,121.72 667.85,122.43 670.10,122.90 C672.35,123.37 675.43,123.32 676.50,123.40" class="bl"/>
<path d="M541.00,123.40 C541.97,123.23 544.80,123.02 546.80,122.40 C548.80,121.78 551.08,121.03 553.00,119.70 C554.92,118.37 556.82,116.45 558.30,114.40 C559.78,112.35 560.80,110.05 561.90,107.40 C563.00,104.75 564.02,101.45 564.90,98.50 C565.78,95.55 566.43,92.65 567.20,89.70 C567.97,86.75 568.72,83.75 569.50,80.80 C570.28,77.85 571.02,74.93 571.90,72.00 C572.78,69.07 573.88,66.13 574.80,63.20 C575.72,60.27 576.47,57.35 577.40,54.40 C578.33,51.45 579.37,48.45 580.40,45.50 C581.43,42.55 582.50,39.62 583.60,36.70 C584.70,33.78 586.12,29.87 587.00,28.00 C587.88,26.13 588.25,26.12 588.90,25.50 C589.55,24.88 590.23,24.30 590.90,24.30 C591.57,24.30 592.27,24.88 592.90,25.50 C593.53,26.12 593.98,26.13 594.70,28.00 C595.42,29.87 596.35,33.78 597.20,36.70 C598.05,39.62 598.88,42.55 599.80,45.50 C600.72,48.45 601.77,51.53 602.70,54.40 C603.63,57.27 604.48,59.85 605.40,62.70 C606.32,65.55 607.17,68.55 608.20,71.50 C609.23,74.45 610.43,77.45 611.60,80.40 C612.77,83.35 614.03,86.60 615.20,89.20 C616.37,91.80 617.20,93.57 618.60,96.00 C620.00,98.43 621.88,101.32 623.60,103.80 C625.32,106.28 627.28,109.22 628.90,110.90 C630.52,112.58 631.83,113.62 633.30,113.90 C634.77,114.18 635.93,113.22 637.70,112.60 C639.47,111.98 641.75,110.33 643.90,110.20 C646.05,110.07 648.45,110.80 650.60,111.80 C652.75,112.80 654.73,114.73 656.80,116.20 C658.87,117.67 660.78,119.48 663.00,120.60 C665.22,121.72 667.85,122.43 670.10,122.90 C672.35,123.37 675.43,123.32 676.50,123.40" class="bm" clip-path="url(#c3)"/>
<path d="M541.00,123.40 C541.97,123.23 544.80,123.02 546.80,122.40 C548.80,121.78 551.08,121.03 553.00,119.70 C554.92,118.37 556.82,116.45 558.30,114.40 C559.78,112.35 560.80,110.05 561.90,107.40 C563.00,104.75 564.02,101.45 564.90,98.50 C565.78,95.55 566.43,92.65 567.20,89.70 C567.97,86.75 568.72,83.75 569.50,80.80 C570.28,77.85 571.02,74.93 571.90,72.00 C572.78,69.07 573.88,66.13 574.80,63.20 C575.72,60.27 576.47,57.35 577.40,54.40 C578.33,51.45 579.37,48.45 580.40,45.50 C581.43,42.55 582.50,39.62 583.60,36.70 C584.70,33.78 586.12,29.87 587.00,28.00 C587.88,26.13 588.25,26.12 588.90,25.50 C589.55,24.88 590.23,24.30 590.90,24.30 C591.57,24.30 592.27,24.88 592.90,25.50 C593.53,26.12 593.98,26.13 594.70,28.00 C595.42,29.87 596.35,33.78 597.20,36.70 C598.05,39.62 598.88,42.55 599.80,45.50 C600.72,48.45 601.77,51.53 602.70,54.40 C603.63,57.27 604.48,59.85 605.40,62.70 C606.32,65.55 607.17,68.55 608.20,71.50 C609.23,74.45 610.43,77.45 611.60,80.40 C612.77,83.35 614.03,86.60 615.20,89.20 C616.37,91.80 617.20,93.57 618.60,96.00 C620.00,98.43 621.88,101.32 623.60,103.80 C625.32,106.28 627.28,109.22 628.90,110.90 C630.52,112.58 631.83,113.70 633.30,113.90 C634.77,114.10 635.93,112.93 637.70,112.10 C639.47,111.27 641.83,109.03 643.90,108.90 C645.97,108.77 648.03,110.08 650.10,111.30 C652.17,112.52 654.23,114.65 656.30,116.20 C658.37,117.75 660.28,119.48 662.50,120.60 C664.72,121.72 667.35,122.43 669.60,122.90 C671.85,123.37 674.93,123.32 676.00,123.40" class="ol"/>
<rect x="537.50" y="19.50" width="145.50" height="103.90" class="ax"/>
<line x1="536.30" y1="123.40" x2="537.50" y2="123.40" class="tk"/>
<text x="535.50" y="124.70" class="tl" text-anchor="end">0</text>
<line x1="536.30" y1="107.70" x2="537.50" y2="107.70" class="tk"/>
<text x="535.50" y="109.00" class="tl" text-anchor="end">1</text>
<line x1="536.30" y1="92.00" x2="537.50" y2="92.00" class="tk"/>
<text x="535.50" y="93.30" class="tl" text-anchor="end">2</text>
<line x1="536.30" y1="76.30" x2="537.50" y2="76.30" class="tk"/>
<text x="535.50" y="77.60" class="tl" text-anchor="end">3</text>
<line x1="536.30" y1="60.60" x2="537.50" y2="60.60" class="tk"/>
<text x="535.50" y="61.90" class="tl" text-anchor="end">4</text>
<line x1="536.30" y1="44.90" x2="537.50" y2="44.90" class="tk"/>
<text x="535.50" y="46.20" class="tl" text-anchor="end">5</text>
<line x1="536.30" y1="29.20" x2="537.50" y2="29.20" class="tk"/>
<text x="535.50" y="30.50" class="tl" text-anchor="end">6</text>
<line x1="542.20" y1="123.40" x2="542.20" y2="124.60" class="tk"/>
<text x="542.20" y="128.10" class="tl" text-anchor="middle">-10000</text>
<line x1="568.90" y1="123.40" x2="568.90" y2="124.60" class="tk"/>
<text x="568.90" y="128.10" class="tl" text-anchor="middle">0</text>
<line x1="595.60" y1="123.40" x2="595.60" y2="124.60" class="tk"/>
<text x="595.60" y="128.10" class="tl" text-anchor="middle">10000</text>
<line x1="622.30" y1="123.40" x2="622.30" y2="124.60" class="tk"/>
<text x="622.30" y="128.10" class="tl" text-anchor="middle">20000</text>
<line x1="649.00" y1="123.40" x2="649.00" y2="124.60" class="tk"/>
<text x="649.00" y="128.10" class="tl" text-anchor="middle">30000</text>
<line x1="675.70" y1="123.40" x2="675.70" y2="124.60" class="tk"/>
<text x="675.70" y="128.10" class="tl" text-anchor="middle">40000</text>
<text x="538.10" y="20.00" class="tl" style="font-size:2.7px" textLength="6.5" lengthAdjust="spacingAndGlyphs">1e-5</text>
<text transform="translate(532.30,72.45) rotate(-90)" class="tl" text-anchor="middle" style="font-size:3.4px">Density</text>
<rect x="652.60" y="21.00" width="29.10" height="9.50" rx="0.6" class="lg"/>
<rect x="653.80" y="22.50" width="5.50" height="1.9" rx="0.15" fill="#a3c8ec" stroke="#4f88c0" stroke-width="0.55"/>
<rect x="653.80" y="26.80" width="5.50" height="1.9" rx="0.15" fill="#f7c090" stroke="#e39c5e" stroke-width="0.55"/>
<text x="661.40" y="24.50" class="lt" textLength="14.60" lengthAdjust="spacingAndGlyphs">Actual Test</text>
<text x="661.40" y="28.80" class="lt" textLength="19.20" lengthAdjust="spacingAndGlyphs">Predicted Test</text></g>
<g><clipPath id="c4"><path d="M98.00,268.90 C98.85,268.68 101.37,268.30 103.10,267.60 C104.83,266.90 106.78,266.07 108.40,264.70 C110.02,263.33 111.53,261.45 112.80,259.40 C114.07,257.35 115.03,255.05 116.00,252.40 C116.97,249.75 117.82,246.45 118.60,243.50 C119.38,240.55 120.05,237.65 120.70,234.70 C121.35,231.75 121.85,228.75 122.50,225.80 C123.15,222.85 123.92,219.77 124.60,217.00 C125.28,214.23 125.85,211.97 126.60,209.20 C127.35,206.43 128.17,203.35 129.10,200.40 C130.03,197.45 131.08,194.45 132.20,191.50 C133.32,188.55 134.47,185.65 135.80,182.70 C137.13,179.75 138.82,175.87 140.20,173.80 C141.58,171.73 142.83,170.30 144.10,170.30 C145.37,170.30 146.68,171.73 147.80,173.80 C148.92,175.87 149.92,179.83 150.80,182.70 C151.68,185.57 152.35,188.25 153.10,191.00 C153.85,193.75 154.43,196.42 155.30,199.20 C156.17,201.98 156.97,204.82 158.30,207.70 C159.63,210.58 161.62,213.55 163.30,216.50 C164.98,219.45 166.88,222.45 168.40,225.40 C169.92,228.35 171.07,231.18 172.40,234.20 C173.73,237.22 174.77,240.47 176.40,243.50 C178.03,246.53 180.05,249.75 182.20,252.40 C184.35,255.05 186.80,257.58 189.30,259.40 C191.80,261.22 194.10,262.47 197.20,263.30 C200.30,264.13 204.95,264.02 207.90,264.40 C210.85,264.78 212.93,265.10 214.90,265.60 C216.87,266.10 217.72,266.92 219.70,267.40 C221.68,267.88 224.75,268.25 226.80,268.50 C228.85,268.75 231.13,268.83 232.00,268.90 L232.00,269.00 L98.00,269.00 Z"/></clipPath>
<path d="M98.00,268.90 C98.85,268.68 101.37,268.30 103.10,267.60 C104.83,266.90 106.78,266.07 108.40,264.70 C110.02,263.33 111.53,261.45 112.80,259.40 C114.07,257.35 115.03,255.05 116.00,252.40 C116.97,249.75 117.82,246.45 118.60,243.50 C119.38,240.55 120.05,237.65 120.70,234.70 C121.35,231.75 121.85,228.75 122.50,225.80 C123.15,222.85 123.92,219.77 124.60,217.00 C125.28,214.23 125.85,211.97 126.60,209.20 C127.35,206.43 128.17,203.35 129.10,200.40 C130.03,197.45 131.08,194.45 132.20,191.50 C133.32,188.55 134.47,185.65 135.80,182.70 C137.13,179.75 138.82,175.87 140.20,173.80 C141.58,171.73 142.83,170.30 144.10,170.30 C145.37,170.30 146.68,171.73 147.80,173.80 C148.92,175.87 149.92,179.83 150.80,182.70 C151.68,185.57 152.35,188.25 153.10,191.00 C153.85,193.75 154.33,196.42 155.30,199.20 C156.27,201.98 157.47,204.82 158.90,207.70 C160.33,210.58 162.22,213.55 163.90,216.50 C165.58,219.45 167.58,222.45 169.00,225.40 C170.42,228.35 171.17,231.18 172.40,234.20 C173.63,237.22 174.85,240.47 176.40,243.50 C177.95,246.53 179.63,249.75 181.70,252.40 C183.77,255.05 186.30,257.58 188.80,259.40 C191.30,261.22 193.60,262.47 196.70,263.30 C199.80,264.13 204.45,264.02 207.40,264.40 C210.35,264.78 212.35,265.10 214.40,265.60 C216.45,266.10 217.63,266.92 219.70,267.40 C221.77,267.88 224.75,268.25 226.80,268.50 C228.85,268.75 231.13,268.83 232.00,268.90 L232.00,269.00 L98.00,269.00 Z" fill="rgb(160,196,234)"/>
<path d="M98.00,268.90 C98.85,268.68 101.37,268.30 103.10,267.60 C104.83,266.90 106.78,266.07 108.40,264.70 C110.02,263.33 111.53,261.45 112.80,259.40 C114.07,257.35 115.03,255.05 116.00,252.40 C116.97,249.75 117.82,246.45 118.60,243.50 C119.38,240.55 120.05,237.65 120.70,234.70 C121.35,231.75 121.85,228.75 122.50,225.80 C123.15,222.85 123.92,219.77 124.60,217.00 C125.28,214.23 125.85,211.97 126.60,209.20 C127.35,206.43 128.17,203.35 129.10,200.40 C130.03,197.45 131.08,194.45 132.20,191.50 C133.32,188.55 134.47,185.65 135.80,182.70 C137.13,179.75 138.82,175.87 140.20,173.80 C141.58,171.73 142.83,170.30 144.10,170.30 C145.37,170.30 146.68,171.73 147.80,173.80 C148.92,175.87 149.92,179.83 150.80,182.70 C151.68,185.57 152.35,188.25 153.10,191.00 C153.85,193.75 154.43,196.42 155.30,199.20 C156.17,201.98 156.97,204.82 158.30,207.70 C159.63,210.58 161.62,213.55 163.30,216.50 C164.98,219.45 166.88,222.45 168.40,225.40 C169.92,228.35 171.07,231.18 172.40,234.20 C173.73,237.22 174.77,240.47 176.40,243.50 C178.03,246.53 180.05,249.75 182.20,252.40 C184.35,255.05 186.80,257.58 189.30,259.40 C191.80,261.22 194.10,262.47 197.20,263.30 C200.30,264.13 204.95,264.02 207.90,264.40 C210.85,264.78 212.93,265.10 214.90,265.60 C216.87,266.10 217.72,266.92 219.70,267.40 C221.68,267.88 224.75,268.25 226.80,268.50 C228.85,268.75 231.13,268.83 232.00,268.90 L232.00,269.00 L98.00,269.00 Z" fill="rgb(251,200,168)"/>
<path d="M98.00,268.90 C98.85,268.68 101.37,268.30 103.10,267.60 C104.83,266.90 106.78,266.07 108.40,264.70 C110.02,263.33 111.53,261.45 112.80,259.40 C114.07,257.35 115.03,255.05 116.00,252.40 C116.97,249.75 117.82,246.45 118.60,243.50 C119.38,240.55 120.05,237.65 120.70,234.70 C121.35,231.75 121.85,228.75 122.50,225.80 C123.15,222.85 123.92,219.77 124.60,217.00 C125.28,214.23 125.85,211.97 126.60,209.20 C127.35,206.43 128.17,203.35 129.10,200.40 C130.03,197.45 131.08,194.45 132.20,191.50 C133.32,188.55 134.47,185.65 135.80,182.70 C137.13,179.75 138.82,175.87 140.20,173.80 C141.58,171.73 142.83,170.30 144.10,170.30 C145.37,170.30 146.68,171.73 147.80,173.80 C148.92,175.87 149.92,179.83 150.80,182.70 C151.68,185.57 152.35,188.25 153.10,191.00 C153.85,193.75 154.33,196.42 155.30,199.20 C156.27,201.98 157.47,204.82 158.90,207.70 C160.33,210.58 162.22,213.55 163.90,216.50 C165.58,219.45 167.58,222.45 169.00,225.40 C170.42,228.35 171.17,231.18 172.40,234.20 C173.63,237.22 174.85,240.47 176.40,243.50 C177.95,246.53 179.63,249.75 181.70,252.40 C183.77,255.05 186.30,257.58 188.80,259.40 C191.30,261.22 193.60,262.47 196.70,263.30 C199.80,264.13 204.45,264.02 207.40,264.40 C210.35,264.78 212.35,265.10 214.40,265.60 C216.45,266.10 217.63,266.92 219.70,267.40 C221.77,267.88 224.75,268.25 226.80,268.50 C228.85,268.75 231.13,268.83 232.00,268.90 L232.00,269.00 L98.00,269.00 Z" fill="rgb(214,168,140)" clip-path="url(#c4)"/>
<path d="M98.00,268.90 C98.85,268.68 101.37,268.30 103.10,267.60 C104.83,266.90 106.78,266.07 108.40,264.70 C110.02,263.33 111.53,261.45 112.80,259.40 C114.07,257.35 115.03,255.05 116.00,252.40 C116.97,249.75 117.82,246.45 118.60,243.50 C119.38,240.55 120.05,237.65 120.70,234.70 C121.35,231.75 121.85,228.75 122.50,225.80 C123.15,222.85 123.92,219.77 124.60,217.00 C125.28,214.23 125.85,211.97 126.60,209.20 C127.35,206.43 128.17,203.35 129.10,200.40 C130.03,197.45 131.08,194.45 132.20,191.50 C133.32,188.55 134.47,185.65 135.80,182.70 C137.13,179.75 138.82,175.87 140.20,173.80 C141.58,171.73 142.83,170.30 144.10,170.30 C145.37,170.30 146.68,171.73 147.80,173.80 C148.92,175.87 149.92,179.83 150.80,182.70 C151.68,185.57 152.35,188.25 153.10,191.00 C153.85,193.75 154.33,196.42 155.30,199.20 C156.27,201.98 157.47,204.82 158.90,207.70 C160.33,210.58 162.22,213.55 163.90,216.50 C165.58,219.45 167.58,222.45 169.00,225.40 C170.42,228.35 171.17,231.18 172.40,234.20 C173.63,237.22 174.85,240.47 176.40,243.50 C177.95,246.53 179.63,249.75 181.70,252.40 C183.77,255.05 186.30,257.58 188.80,259.40 C191.30,261.22 193.60,262.47 196.70,263.30 C199.80,264.13 204.45,264.02 207.40,264.40 C210.35,264.78 212.35,265.10 214.40,265.60 C216.45,266.10 217.63,266.92 219.70,267.40 C221.77,267.88 224.75,268.25 226.80,268.50 C228.85,268.75 231.13,268.83 232.00,268.90" class="bl"/>
<path d="M98.00,268.90 C98.85,268.68 101.37,268.30 103.10,267.60 C104.83,266.90 106.78,266.07 108.40,264.70 C110.02,263.33 111.53,261.45 112.80,259.40 C114.07,257.35 115.03,255.05 116.00,252.40 C116.97,249.75 117.82,246.45 118.60,243.50 C119.38,240.55 120.05,237.65 120.70,234.70 C121.35,231.75 121.85,228.75 122.50,225.80 C123.15,222.85 123.92,219.77 124.60,217.00 C125.28,214.23 125.85,211.97 126.60,209.20 C127.35,206.43 128.17,203.35 129.10,200.40 C130.03,197.45 131.08,194.45 132.20,191.50 C133.32,188.55 134.47,185.65 135.80,182.70 C137.13,179.75 138.82,175.87 140.20,173.80 C141.58,171.73 142.83,170.30 144.10,170.30 C145.37,170.30 146.68,171.73 147.80,173.80 C148.92,175.87 149.92,179.83 150.80,182.70 C151.68,185.57 152.35,188.25 153.10,191.00 C153.85,193.75 154.33,196.42 155.30,199.20 C156.27,201.98 157.47,204.82 158.90,207.70 C160.33,210.58 162.22,213.55 163.90,216.50 C165.58,219.45 167.58,222.45 169.00,225.40 C170.42,228.35 171.17,231.18 172.40,234.20 C173.63,237.22 174.85,240.47 176.40,243.50 C177.95,246.53 179.63,249.75 181.70,252.40 C183.77,255.05 186.30,257.58 188.80,259.40 C191.30,261.22 193.60,262.47 196.70,263.30 C199.80,264.13 204.45,264.02 207.40,264.40 C210.35,264.78 212.35,265.10 214.40,265.60 C216.45,266.10 217.63,266.92 219.70,267.40 C221.77,267.88 224.75,268.25 226.80,268.50 C228.85,268.75 231.13,268.83 232.00,268.90" class="bm" clip-path="url(#c4)"/>
<path d="M98.00,268.90 C98.85,268.68 101.37,268.30 103.10,267.60 C104.83,266.90 106.78,266.07 108.40,264.70 C110.02,263.33 111.53,261.45 112.80,259.40 C114.07,257.35 115.03,255.05 116.00,252.40 C116.97,249.75 117.82,246.45 118.60,243.50 C119.38,240.55 120.05,237.65 120.70,234.70 C121.35,231.75 121.85,228.75 122.50,225.80 C123.15,222.85 123.92,219.77 124.60,217.00 C125.28,214.23 125.85,211.97 126.60,209.20 C127.35,206.43 128.17,203.35 129.10,200.40 C130.03,197.45 131.08,194.45 132.20,191.50 C133.32,188.55 134.47,185.65 135.80,182.70 C137.13,179.75 138.82,175.87 140.20,173.80 C141.58,171.73 142.83,170.30 144.10,170.30 C145.37,170.30 146.68,171.73 147.80,173.80 C148.92,175.87 149.92,179.83 150.80,182.70 C151.68,185.57 152.35,188.25 153.10,191.00 C153.85,193.75 154.43,196.42 155.30,199.20 C156.17,201.98 156.97,204.82 158.30,207.70 C159.63,210.58 161.62,213.55 163.30,216.50 C164.98,219.45 166.88,222.45 168.40,225.40 C169.92,228.35 171.07,231.18 172.40,234.20 C173.73,237.22 174.77,240.47 176.40,243.50 C178.03,246.53 180.05,249.75 182.20,252.40 C184.35,255.05 186.80,257.58 189.30,259.40 C191.80,261.22 194.10,262.47 197.20,263.30 C200.30,264.13 204.95,264.02 207.90,264.40 C210.85,264.78 212.93,265.10 214.90,265.60 C216.87,266.10 217.72,266.92 219.70,267.40 C221.68,267.88 224.75,268.25 226.80,268.50 C228.85,268.75 231.13,268.83 232.00,268.90" class="ol"/>
<rect x="96.60" y="165.30" width="145.80" height="103.70" class="ax"/>
<line x1="95.40" y1="268.90" x2="96.60" y2="268.90" class="tk"/>
<text x="94.60" y="270.20" class="tl" text-anchor="end">0</text>
<line x1="95.40" y1="253.30" x2="96.60" y2="253.30" class="tk"/>
<text x="94.60" y="254.60" class="tl" text-anchor="end">1</text>
<line x1="95.40" y1="237.70" x2="96.60" y2="237.70" class="tk"/>
<text x="94.60" y="239.00" class="tl" text-anchor="end">2</text>
<line x1="95.40" y1="222.10" x2="96.60" y2="222.10" class="tk"/>
<text x="94.60" y="223.40" class="tl" text-anchor="end">3</text>
<line x1="95.40" y1="206.50" x2="96.60" y2="206.50" class="tk"/>
<text x="94.60" y="207.80" class="tl" text-anchor="end">4</text>
<line x1="95.40" y1="190.90" x2="96.60" y2="190.90" class="tk"/>
<text x="94.60" y="192.20" class="tl" text-anchor="end">5</text>
<line x1="95.40" y1="175.30" x2="96.60" y2="175.30" class="tk"/>
<text x="94.60" y="176.60" class="tl" text-anchor="end">6</text>
<line x1="123.20" y1="269.00" x2="123.20" y2="270.20" class="tk"/>
<text x="123.20" y="273.70" class="tl" text-anchor="middle">0</text>
<line x1="149.80" y1="269.00" x2="149.80" y2="270.20" class="tk"/>
<text x="149.80" y="273.70" class="tl" text-anchor="middle">10000</text>
<line x1="176.40" y1="269.00" x2="176.40" y2="270.20" class="tk"/>
<text x="176.40" y="273.70" class="tl" text-anchor="middle">20000</text>
<line x1="203.00" y1="269.00" x2="203.00" y2="270.20" class="tk"/>
<text x="203.00" y="273.70" class="tl" text-anchor="middle">30000</text>
<line x1="229.60" y1="269.00" x2="229.60" y2="270.20" class="tk"/>
<text x="229.60" y="273.70" class="tl" text-anchor="middle">40000</text>
<text x="97.20" y="165.80" class="tl" style="font-size:2.7px" textLength="6.5" lengthAdjust="spacingAndGlyphs">1e-5</text>
<text transform="translate(91.40,218.15) rotate(-90)" class="tl" text-anchor="middle" style="font-size:3.4px">Density</text>
<rect x="210.20" y="167.00" width="30.60" height="8.30" rx="0.6" class="lg"/>
<rect x="211.30" y="167.80" width="5.60" height="1.9" rx="0.15" fill="#a3c8ec" stroke="#4f88c0" stroke-width="0.55"/>
<rect x="211.30" y="172.10" width="5.60" height="1.9" rx="0.15" fill="#f7c090" stroke="#e39c5e" stroke-width="0.55"/>
<text x="219.00" y="169.85" class="lt" textLength="16.20" lengthAdjust="spacingAndGlyphs">Actual Train</text>
<text x="219.00" y="174.10" class="lt" textLength="21.00" lengthAdjust="spacingAndGlyphs">Predicted Train</text></g>
<g><clipPath id="c5"><path d="M451.00,268.90 C451.85,268.65 454.22,268.10 456.10,267.40 C457.98,266.70 460.38,266.03 462.30,264.70 C464.22,263.37 466.07,261.45 467.60,259.40 C469.13,257.35 470.33,255.05 471.50,252.40 C472.67,249.75 473.72,246.45 474.60,243.50 C475.48,240.55 476.12,237.65 476.80,234.70 C477.48,231.75 478.07,228.75 478.70,225.80 C479.33,222.85 480.02,219.77 480.60,217.00 C481.18,214.23 481.63,211.97 482.20,209.20 C482.77,206.43 483.28,203.35 484.00,200.40 C484.72,197.45 485.62,194.45 486.50,191.50 C487.38,188.55 488.32,185.45 489.30,182.70 C490.28,179.95 491.53,176.82 492.40,175.00 C493.27,173.18 493.68,172.60 494.50,171.80 C495.32,171.00 496.38,170.23 497.30,170.20 C498.22,170.17 499.20,170.87 500.00,171.60 C500.80,172.33 501.27,172.75 502.10,174.60 C502.93,176.45 503.98,179.88 505.00,182.70 C506.02,185.52 507.18,188.55 508.20,191.50 C509.22,194.45 510.18,197.45 511.10,200.40 C512.02,203.35 512.83,206.43 513.70,209.20 C514.57,211.97 515.32,214.53 516.30,217.00 C517.28,219.47 518.25,221.65 519.60,224.00 C520.95,226.35 522.57,228.43 524.40,231.10 C526.23,233.77 528.68,237.35 530.60,240.00 C532.52,242.65 534.28,244.97 535.90,247.00 C537.52,249.03 538.83,251.07 540.30,252.20 C541.77,253.33 542.93,253.53 544.70,253.80 C546.47,254.07 548.98,253.70 550.90,253.80 C552.82,253.90 554.57,254.03 556.20,254.40 C557.83,254.77 558.93,254.87 560.70,256.00 C562.47,257.13 564.60,259.45 566.80,261.20 C569.00,262.95 571.68,265.32 573.90,266.50 C576.12,267.68 578.08,267.90 580.10,268.30 C582.12,268.70 585.02,268.80 586.00,268.90 L586.00,269.00 L451.00,269.00 Z"/></clipPath>
<path d="M451.00,268.90 C451.85,268.65 454.22,268.10 456.10,267.40 C457.98,266.70 460.38,266.03 462.30,264.70 C464.22,263.37 466.07,261.45 467.60,259.40 C469.13,257.35 470.33,255.05 471.50,252.40 C472.67,249.75 473.72,246.45 474.60,243.50 C475.48,240.55 476.08,237.65 476.80,234.70 C477.52,231.75 478.20,228.75 478.90,225.80 C479.60,222.85 480.38,219.77 481.00,217.00 C481.62,214.23 481.97,211.97 482.60,209.20 C483.23,206.43 483.93,203.35 484.80,200.40 C485.67,197.45 486.70,194.45 487.80,191.50 C488.90,188.55 490.28,185.15 491.40,182.70 C492.52,180.25 493.67,178.17 494.50,176.80 C495.33,175.43 495.75,175.02 496.40,174.50 C497.05,173.98 497.73,173.70 498.40,173.70 C499.07,173.70 499.73,174.02 500.40,174.50 C501.07,174.98 501.53,175.23 502.40,176.60 C503.27,177.97 504.52,180.47 505.60,182.70 C506.68,184.93 507.82,187.32 508.90,190.00 C509.98,192.68 511.03,195.85 512.10,198.80 C513.17,201.75 514.27,204.75 515.30,207.70 C516.33,210.65 517.38,213.70 518.30,216.50 C519.22,219.30 519.85,221.75 520.80,224.50 C521.75,227.25 522.72,230.12 524.00,233.00 C525.28,235.88 526.92,239.20 528.50,241.80 C530.08,244.40 531.83,246.97 533.50,248.60 C535.17,250.23 536.63,251.17 538.50,251.60 C540.37,252.03 542.63,251.47 544.70,251.20 C546.77,250.93 548.98,249.98 550.90,250.00 C552.82,250.02 554.57,250.50 556.20,251.30 C557.83,252.10 558.93,253.18 560.70,254.80 C562.47,256.42 564.60,259.07 566.80,261.00 C569.00,262.93 571.68,265.18 573.90,266.40 C576.12,267.62 577.92,267.88 580.10,268.30 C582.28,268.72 585.85,268.80 587.00,268.90 L587.00,269.00 L451.00,269.00 Z" fill="rgb(160,196,234)"/>
<path d="M451.00,268.90 C451.85,268.65 454.22,268.10 456.10,267.40 C457.98,266.70 460.38,266.03 462.30,264.70 C464.22,263.37 466.07,261.45 467.60,259.40 C469.13,257.35 470.33,255.05 471.50,252.40 C472.67,249.75 473.72,246.45 474.60,243.50 C475.48,240.55 476.12,237.65 476.80,234.70 C477.48,231.75 478.07,228.75 478.70,225.80 C479.33,222.85 480.02,219.77 480.60,217.00 C481.18,214.23 481.63,211.97 482.20,209.20 C482.77,206.43 483.28,203.35 484.00,200.40 C484.72,197.45 485.62,194.45 486.50,191.50 C487.38,188.55 488.32,185.45 489.30,182.70 C490.28,179.95 491.53,176.82 492.40,175.00 C493.27,173.18 493.68,172.60 494.50,171.80 C495.32,171.00 496.38,170.23 497.30,170.20 C498.22,170.17 499.20,170.87 500.00,171.60 C500.80,172.33 501.27,172.75 502.10,174.60 C502.93,176.45 503.98,179.88 505.00,182.70 C506.02,185.52 507.18,188.55 508.20,191.50 C509.22,194.45 510.18,197.45 511.10,200.40 C512.02,203.35 512.83,206.43 513.70,209.20 C514.57,211.97 515.32,214.53 516.30,217.00 C517.28,219.47 518.25,221.65 519.60,224.00 C520.95,226.35 522.57,228.43 524.40,231.10 C526.23,233.77 528.68,237.35 530.60,240.00 C532.52,242.65 534.28,244.97 535.90,247.00 C537.52,249.03 538.83,251.07 540.30,252.20 C541.77,253.33 542.93,253.53 544.70,253.80 C546.47,254.07 548.98,253.70 550.90,253.80 C552.82,253.90 554.57,254.03 556.20,254.40 C557.83,254.77 558.93,254.87 560.70,256.00 C562.47,257.13 564.60,259.45 566.80,261.20 C569.00,262.95 571.68,265.32 573.90,266.50 C576.12,267.68 578.08,267.90 580.10,268.30 C582.12,268.70 585.02,268.80 586.00,268.90 L586.00,269.00 L451.00,269.00 Z" fill="rgb(251,200,168)"/>
<path d="M451.00,268.90 C451.85,268.65 454.22,268.10 456.10,267.40 C457.98,266.70 460.38,266.03 462.30,264.70 C464.22,263.37 466.07,261.45 467.60,259.40 C469.13,257.35 470.33,255.05 471.50,252.40 C472.67,249.75 473.72,246.45 474.60,243.50 C475.48,240.55 476.08,237.65 476.80,234.70 C477.52,231.75 478.20,228.75 478.90,225.80 C479.60,222.85 480.38,219.77 481.00,217.00 C481.62,214.23 481.97,211.97 482.60,209.20 C483.23,206.43 483.93,203.35 484.80,200.40 C485.67,197.45 486.70,194.45 487.80,191.50 C488.90,188.55 490.28,185.15 491.40,182.70 C492.52,180.25 493.67,178.17 494.50,176.80 C495.33,175.43 495.75,175.02 496.40,174.50 C497.05,173.98 497.73,173.70 498.40,173.70 C499.07,173.70 499.73,174.02 500.40,174.50 C501.07,174.98 501.53,175.23 502.40,176.60 C503.27,177.97 504.52,180.47 505.60,182.70 C506.68,184.93 507.82,187.32 508.90,190.00 C509.98,192.68 511.03,195.85 512.10,198.80 C513.17,201.75 514.27,204.75 515.30,207.70 C516.33,210.65 517.38,213.70 518.30,216.50 C519.22,219.30 519.85,221.75 520.80,224.50 C521.75,227.25 522.72,230.12 524.00,233.00 C525.28,235.88 526.92,239.20 528.50,241.80 C530.08,244.40 531.83,246.97 533.50,248.60 C535.17,250.23 536.63,251.17 538.50,251.60 C540.37,252.03 542.63,251.47 544.70,251.20 C546.77,250.93 548.98,249.98 550.90,250.00 C552.82,250.02 554.57,250.50 556.20,251.30 C557.83,252.10 558.93,253.18 560.70,254.80 C562.47,256.42 564.60,259.07 566.80,261.00 C569.00,262.93 571.68,265.18 573.90,266.40 C576.12,267.62 577.92,267.88 580.10,268.30 C582.28,268.72 585.85,268.80 587.00,268.90 L587.00,269.00 L451.00,269.00 Z" fill="rgb(214,168,140)" clip-path="url(#c5)"/>
<path d="M451.00,268.90 C451.85,268.65 454.22,268.10 456.10,267.40 C457.98,266.70 460.38,266.03 462.30,264.70 C464.22,263.37 466.07,261.45 467.60,259.40 C469.13,257.35 470.33,255.05 471.50,252.40 C472.67,249.75 473.72,246.45 474.60,243.50 C475.48,240.55 476.08,237.65 476.80,234.70 C477.52,231.75 478.20,228.75 478.90,225.80 C479.60,222.85 480.38,219.77 481.00,217.00 C481.62,214.23 481.97,211.97 482.60,209.20 C483.23,206.43 483.93,203.35 484.80,200.40 C485.67,197.45 486.70,194.45 487.80,191.50 C488.90,188.55 490.28,185.15 491.40,182.70 C492.52,180.25 493.67,178.17 494.50,176.80 C495.33,175.43 495.75,175.02 496.40,174.50 C497.05,173.98 497.73,173.70 498.40,173.70 C499.07,173.70 499.73,174.02 500.40,174.50 C501.07,174.98 501.53,175.23 502.40,176.60 C503.27,177.97 504.52,180.47 505.60,182.70 C506.68,184.93 507.82,187.32 508.90,190.00 C509.98,192.68 511.03,195.85 512.10,198.80 C513.17,201.75 514.27,204.75 515.30,207.70 C516.33,210.65 517.38,213.70 518.30,216.50 C519.22,219.30 519.85,221.75 520.80,224.50 C521.75,227.25 522.72,230.12 524.00,233.00 C525.28,235.88 526.92,239.20 528.50,241.80 C530.08,244.40 531.83,246.97 533.50,248.60 C535.17,250.23 536.63,251.17 538.50,251.60 C540.37,252.03 542.63,251.47 544.70,251.20 C546.77,250.93 548.98,249.98 550.90,250.00 C552.82,250.02 554.57,250.50 556.20,251.30 C557.83,252.10 558.93,253.18 560.70,254.80 C562.47,256.42 564.60,259.07 566.80,261.00 C569.00,262.93 571.68,265.18 573.90,266.40 C576.12,267.62 577.92,267.88 580.10,268.30 C582.28,268.72 585.85,268.80 587.00,268.90" class="bl"/>
<path d="M451.00,268.90 C451.85,268.65 454.22,268.10 456.10,267.40 C457.98,266.70 460.38,266.03 462.30,264.70 C464.22,263.37 466.07,261.45 467.60,259.40 C469.13,257.35 470.33,255.05 471.50,252.40 C472.67,249.75 473.72,246.45 474.60,243.50 C475.48,240.55 476.08,237.65 476.80,234.70 C477.52,231.75 478.20,228.75 478.90,225.80 C479.60,222.85 480.38,219.77 481.00,217.00 C481.62,214.23 481.97,211.97 482.60,209.20 C483.23,206.43 483.93,203.35 484.80,200.40 C485.67,197.45 486.70,194.45 487.80,191.50 C488.90,188.55 490.28,185.15 491.40,182.70 C492.52,180.25 493.67,178.17 494.50,176.80 C495.33,175.43 495.75,175.02 496.40,174.50 C497.05,173.98 497.73,173.70 498.40,173.70 C499.07,173.70 499.73,174.02 500.40,174.50 C501.07,174.98 501.53,175.23 502.40,176.60 C503.27,177.97 504.52,180.47 505.60,182.70 C506.68,184.93 507.82,187.32 508.90,190.00 C509.98,192.68 511.03,195.85 512.10,198.80 C513.17,201.75 514.27,204.75 515.30,207.70 C516.33,210.65 517.38,213.70 518.30,216.50 C519.22,219.30 519.85,221.75 520.80,224.50 C521.75,227.25 522.72,230.12 524.00,233.00 C525.28,235.88 526.92,239.20 528.50,241.80 C530.08,244.40 531.83,246.97 533.50,248.60 C535.17,250.23 536.63,251.17 538.50,251.60 C540.37,252.03 542.63,251.47 544.70,251.20 C546.77,250.93 548.98,249.98 550.90,250.00 C552.82,250.02 554.57,250.50 556.20,251.30 C557.83,252.10 558.93,253.18 560.70,254.80 C562.47,256.42 564.60,259.07 566.80,261.00 C569.00,262.93 571.68,265.18 573.90,266.40 C576.12,267.62 577.92,267.88 580.10,268.30 C582.28,268.72 585.85,268.80 587.00,268.90" class="bm" clip-path="url(#c5)"/>
<path d="M451.00,268.90 C451.85,268.65 454.22,268.10 456.10,267.40 C457.98,266.70 460.38,266.03 462.30,264.70 C464.22,263.37 466.07,261.45 467.60,259.40 C469.13,257.35 470.33,255.05 471.50,252.40 C472.67,249.75 473.72,246.45 474.60,243.50 C475.48,240.55 476.12,237.65 476.80,234.70 C477.48,231.75 478.07,228.75 478.70,225.80 C479.33,222.85 480.02,219.77 480.60,217.00 C481.18,214.23 481.63,211.97 482.20,209.20 C482.77,206.43 483.28,203.35 484.00,200.40 C484.72,197.45 485.62,194.45 486.50,191.50 C487.38,188.55 488.32,185.45 489.30,182.70 C490.28,179.95 491.53,176.82 492.40,175.00 C493.27,173.18 493.68,172.60 494.50,171.80 C495.32,171.00 496.38,170.23 497.30,170.20 C498.22,170.17 499.20,170.87 500.00,171.60 C500.80,172.33 501.27,172.75 502.10,174.60 C502.93,176.45 503.98,179.88 505.00,182.70 C506.02,185.52 507.18,188.55 508.20,191.50 C509.22,194.45 510.18,197.45 511.10,200.40 C512.02,203.35 512.83,206.43 513.70,209.20 C514.57,211.97 515.32,214.53 516.30,217.00 C517.28,219.47 518.25,221.65 519.60,224.00 C520.95,226.35 522.57,228.43 524.40,231.10 C526.23,233.77 528.68,237.35 530.60,240.00 C532.52,242.65 534.28,244.97 535.90,247.00 C537.52,249.03 538.83,251.07 540.30,252.20 C541.77,253.33 542.93,253.53 544.70,253.80 C546.47,254.07 548.98,253.70 550.90,253.80 C552.82,253.90 554.57,254.03 556.20,254.40 C557.83,254.77 558.93,254.87 560.70,256.00 C562.47,257.13 564.60,259.45 566.80,261.20 C569.00,262.95 571.68,265.32 573.90,266.50 C576.12,267.68 578.08,267.90 580.10,268.30 C582.12,268.70 585.02,268.80 586.00,268.90" class="ol"/>
<rect x="448.50" y="165.00" width="145.00" height="104.00" class="ax"/>
<line x1="447.30" y1="268.90" x2="448.50" y2="268.90" class="tk"/>
<text x="446.50" y="270.20" class="tl" text-anchor="end">0</text>
<line x1="447.30" y1="250.80" x2="448.50" y2="250.80" class="tk"/>
<text x="446.50" y="252.10" class="tl" text-anchor="end">1</text>
<line x1="447.30" y1="232.70" x2="448.50" y2="232.70" class="tk"/>
<text x="446.50" y="234.00" class="tl" text-anchor="end">2</text>
<line x1="447.30" y1="214.60" x2="448.50" y2="214.60" class="tk"/>
<text x="446.50" y="215.90" class="tl" text-anchor="end">3</text>
<line x1="447.30" y1="196.50" x2="448.50" y2="196.50" class="tk"/>
<text x="446.50" y="197.80" class="tl" text-anchor="end">4</text>
<line x1="447.30" y1="178.40" x2="448.50" y2="178.40" class="tk"/>
<text x="446.50" y="179.70" class="tl" text-anchor="end">5</text>
<line x1="459.70" y1="269.00" x2="459.70" y2="270.20" class="tk"/>
<text x="459.70" y="273.70" class="tl" text-anchor="middle">-10000</text>
<line x1="483.70" y1="269.00" x2="483.70" y2="270.20" class="tk"/>
<text x="483.70" y="273.70" class="tl" text-anchor="middle">0</text>
<line x1="507.70" y1="269.00" x2="507.70" y2="270.20" class="tk"/>
<text x="507.70" y="273.70" class="tl" text-anchor="middle">10000</text>
<line x1="531.70" y1="269.00" x2="531.70" y2="270.20" class="tk"/>
<text x="531.70" y="273.70" class="tl" text-anchor="middle">20000</text>
<line x1="555.70" y1="269.00" x2="555.70" y2="270.20" class="tk"/>
<text x="555.70" y="273.70" class="tl" text-anchor="middle">30000</text>
<line x1="579.70" y1="269.00" x2="579.70" y2="270.20" class="tk"/>
<text x="579.70" y="273.70" class="tl" text-anchor="middle">40000</text>
<text transform="translate(443.30,218.00) rotate(-90)" class="tl" text-anchor="middle" style="font-size:3.4px">Density</text>
<rect x="563.00" y="166.00" width="29.30" height="9.50" rx="0.6" class="lg"/>
<rect x="564.10" y="167.70" width="5.40" height="1.9" rx="0.15" fill="#a3c8ec" stroke="#4f88c0" stroke-width="0.55"/>
<rect x="564.10" y="172.10" width="5.40" height="1.9" rx="0.15" fill="#f7c090" stroke="#e39c5e" stroke-width="0.55"/>
<text x="571.70" y="169.75" class="lt" textLength="15.00" lengthAdjust="spacingAndGlyphs">Actual Test</text>
<text x="571.70" y="173.85" class="lt" textLength="19.30" lengthAdjust="spacingAndGlyphs">Predicted Test</text></g>
<rect x="343.9" y="2.8" width="2.35" height="144.9" fill="#000"/>
<text x="155.50" y="15.10" font-size="11.80" textLength="23.60" lengthAdjust="spacingAndGlyphs" class="cap">CNN</text>
<text x="507.40" y="15.10" font-size="11.80" textLength="23.20" lengthAdjust="spacingAndGlyphs" class="cap">MLP</text>
<text x="327.80" y="160.40" font-size="11.80" textLength="27.80" lengthAdjust="spacingAndGlyphs" class="cap">RBFN</text>
<text x="51.80" y="143.90" font-size="11.00" textLength="11.60" lengthAdjust="spacingAndGlyphs" class="cap">A)</text>
<text x="73.20" y="143.90" font-size="11.00" textLength="54.00" lengthAdjust="spacingAndGlyphs" class="cap">CNN-Train</text>
<text x="231.80" y="143.90" font-size="11.00" textLength="10.60" lengthAdjust="spacingAndGlyphs" class="cap">B)</text>
<text x="252.70" y="143.90" font-size="11.00" textLength="49.70" lengthAdjust="spacingAndGlyphs" class="cap">CNN-Test</text>
<text x="405.60" y="143.90" font-size="11.00" textLength="11.60" lengthAdjust="spacingAndGlyphs" class="cap">A)</text>
<text x="427.50" y="143.90" font-size="11.00" textLength="53.80" lengthAdjust="spacingAndGlyphs" class="cap">MLP-Train</text>
<text x="582.20" y="143.90" font-size="11.00" textLength="10.60" lengthAdjust="spacingAndGlyphs" class="cap">B)</text>
<text x="603.90" y="143.90" font-size="11.00" textLength="48.80" lengthAdjust="spacingAndGlyphs" class="cap">MLP-Test</text>
<text x="136.50" y="289.70" font-size="11.00" textLength="11.20" lengthAdjust="spacingAndGlyphs" class="cap">A)</text>
<text x="158.40" y="289.70" font-size="11.00" textLength="58.20" lengthAdjust="spacingAndGlyphs" class="cap">RBFN-Train</text>
<text x="490.40" y="289.70" font-size="11.00" textLength="10.80" lengthAdjust="spacingAndGlyphs" class="cap">B)</text>
<text x="511.80" y="289.70" font-size="11.00" textLength="53.70" lengthAdjust="spacingAndGlyphs" class="cap">RBFN-Test</text>
</svg>
</body></html>
